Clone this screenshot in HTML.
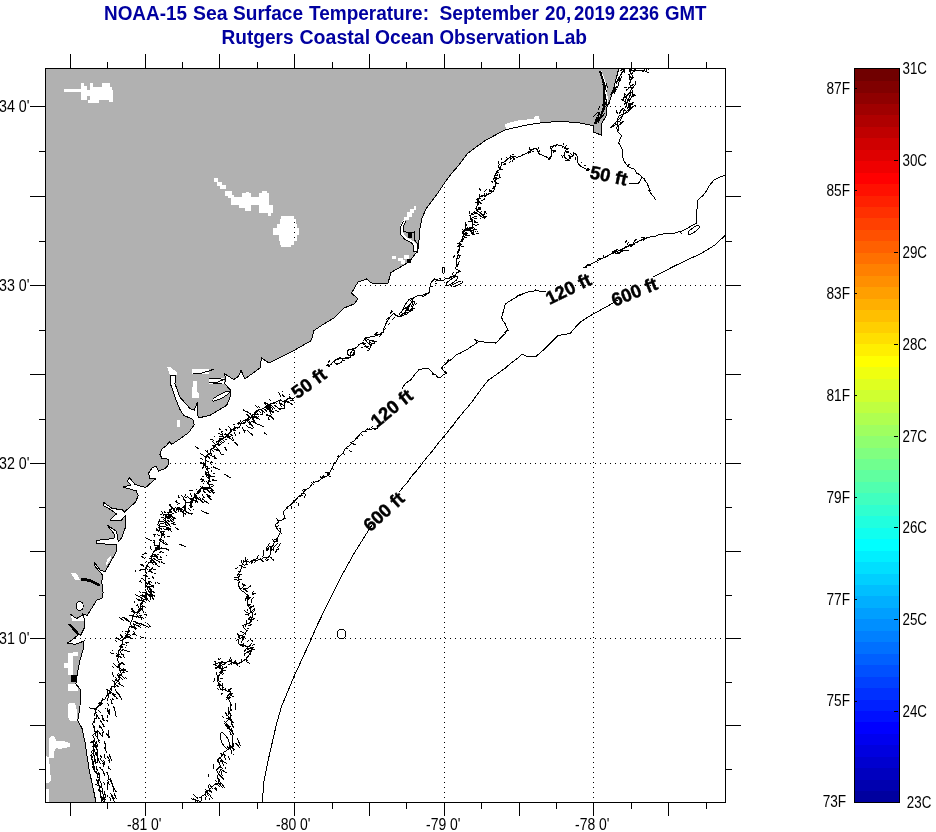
<!DOCTYPE html>
<html><head><meta charset="utf-8"><title>NOAA-15 SST</title>
<style>html,body{margin:0;padding:0;background:#fff;}body{width:936px;height:832px;overflow:hidden;position:relative;font-family:"Liberation Sans",sans-serif;}</style></head>
<body>
<svg width="936" height="832" viewBox="0 0 936 832" style="position:absolute;left:0;top:0;opacity:0.999">
<rect width="936" height="832" fill="#fff"/>
<g shape-rendering="crispEdges">
<line x1="45" y1="106.5" x2="725" y2="106.5" stroke="#000" stroke-width="1" stroke-dasharray="1 4"/>
<line x1="45" y1="285.5" x2="725" y2="285.5" stroke="#000" stroke-width="1" stroke-dasharray="1 4"/>
<line x1="45" y1="463.5" x2="725" y2="463.5" stroke="#000" stroke-width="1" stroke-dasharray="1 4"/>
<line x1="45" y1="638.5" x2="725" y2="638.5" stroke="#000" stroke-width="1" stroke-dasharray="1 4"/>
<line x1="145.5" y1="803" x2="145.5" y2="68" stroke="#000" stroke-width="1" stroke-dasharray="1 4"/>
<line x1="294.5" y1="803" x2="294.5" y2="68" stroke="#000" stroke-width="1" stroke-dasharray="1 4"/>
<line x1="444.5" y1="803" x2="444.5" y2="68" stroke="#000" stroke-width="1" stroke-dasharray="1 4"/>
<line x1="593.5" y1="803" x2="593.5" y2="68" stroke="#000" stroke-width="1" stroke-dasharray="1 4"/>
</g>
<mask id="landmask" maskUnits="userSpaceOnUse" x="0" y="0" width="936" height="832"><g shape-rendering="crispEdges">
<polygon points="45.0,68.0 619.0,68.0 615.0,83.0 611.5,96.0 607.0,107.0 606.0,116.0 601.0,125.0 601.0,135.0 593.5,132.0 593.5,126.0 590.0,125.0 578.0,122.5 560.0,121.5 543.0,122.5 524.0,125.5 505.0,130.0 486.0,140.0 468.0,153.0 459.0,165.0 452.0,173.0 446.5,180.0 436.5,195.0 426.5,208.0 422.0,218.0 420.0,228.0 419.0,240.0 417.8,250.5 409.0,262.0 403.0,265.5 391.0,272.5 388.0,283.0 380.0,284.0 371.5,283.0 366.5,279.0 358.0,282.0 351.5,293.0 358.0,299.0 354.0,304.0 344.0,308.0 334.0,318.0 321.5,325.5 314.0,330.5 311.5,340.5 294.0,350.5 284.0,355.5 269.0,363.0 261.5,358.0 260.0,367.8 245.0,379.0 241.0,370.4 238.5,376.3 233.8,379.6 224.6,373.7 225.9,379.6 224.6,383.6 230.5,390.2 229.9,398.1 226.6,405.4 210.0,415.3 198.1,418.0 197.5,402.1 194.2,410.0 190.2,408.7 179.6,396.8 175.0,383.6 175.7,375.7 170.4,375.0 170.4,383.6 174.4,395.5 179.6,408.7 183.6,415.3 192.9,419.3 194.2,424.6 188.9,432.5 179.6,439.1 171.7,444.4 169.1,441.8 166.4,445.7 161.4,449.2 160.0,454.5 162.0,458.5 168.6,459.2 168.6,464.4 165.3,468.4 158.7,471.0 156.0,466.4 152.1,467.8 148.8,473.0 149.5,478.3 155.4,479.0 145.5,487.6 134.9,484.3 129.6,477.7 127.0,481.0 131.0,485.0 123.0,487.0 136.2,490.9 138.2,495.5 135.6,502.1 124.4,512.0 121.7,509.4 112.5,508.7 103.2,502.1 103.2,505.4 111.1,510.0 116.4,514.0 109.8,520.0 121.0,520.6 125.0,516.0 125.0,528.5 121.7,537.8 118.4,541.8 116.4,531.2 107.2,525.2 115.1,535.1 113.8,538.4 96.6,540.4 96.0,543.7 116.4,544.4 117.0,550.6 111.0,561.0 105.1,571.7 100.5,570.4 93.9,561.8 95.2,566.4 102.5,575.0 101.8,582.3 103.1,592.9 101.8,598.8 97.2,599.5 87.3,615.3 82.7,614.0 84.6,619.3 84.6,627.2 80.7,635.1 76.7,632.5 68.8,624.6 78.0,635.1 71.4,640.4 67.5,643.0 75.4,644.4 84.0,641.0 83.0,650.0 80.0,660.0 77.8,670.7 75.8,684.0 80.9,690.0 79.9,707.5 77.8,720.8 81.9,728.0 85.0,742.0 89.0,769.0 94.2,793.4 96.0,802.5 45.0,802.5" fill="#fff"/>
<polygon points="505.0,124.0 512.0,122.0 520.0,120.0 534.0,119.0 535.0,116.0 539.0,116.0 540.0,122.0 538.0,125.0 524.0,126.0 512.0,129.0 506.0,130.0" fill="#000"/>
<polygon points="192.0,369.0 209.0,369.0 209.0,374.0 192.0,374.0" fill="#000"/>
<polygon points="209.0,377.5 224.0,377.5 224.6,383.6 209.0,383.6" fill="#000"/>
<polygon points="193.0,381.0 197.0,381.0 197.0,392.0 199.0,393.0 199.0,398.0 191.5,398.0" fill="#000"/>
<polygon points="167.0,367.0 170.0,367.0 177.0,372.0 177.5,375.0 170.0,375.0" fill="#000"/>
<polygon points="177.0,420.0 179.6,420.0 179.6,426.5 177.0,426.5" fill="#000"/>
<polygon points="70.8,573.0 76.0,573.0 80.0,579.6 75.0,579.6" fill="#000"/>
<polygon points="105.8,565.0 107.0,560.0 111.0,555.9 111.0,558.0 107.0,565.0" fill="#000"/>
<polygon points="67.6,653.0 72.7,653.0 72.7,652.0 77.8,652.0 77.8,656.0 73.2,656.0 73.2,675.0 67.6,675.0 67.6,667.6 64.0,667.6 64.0,662.5 67.6,662.5" fill="#000"/>
<polygon points="71.0,615.0 77.0,619.0 84.0,615.0 84.5,620.5 72.0,620.5" fill="#000"/>
<polygon points="67.6,684.0 77.8,684.0 77.8,691.0 67.6,691.0" fill="#000"/>
<polygon points="69.0,703.0 75.0,703.0 76.8,710.0 76.8,720.8 70.0,720.8 67.6,716.0 67.6,707.0" fill="#000"/>
<polygon points="49.0,738.0 52.0,736.0 55.0,737.0 56.0,741.0 64.0,741.0 69.6,743.0 69.6,747.0 64.0,748.0 60.0,749.0 56.0,748.0 54.0,752.0 54.0,758.0 49.0,758.0" fill="#000"/>
<polygon points="45.5,756.0 49.0,757.0 50.0,770.0 51.0,780.0 49.0,783.0 45.5,783.0" fill="#000"/>
<polygon points="45.5,789.0 49.0,789.0 49.0,801.5 45.5,801.5" fill="#000"/>
<polygon points="599.3,71.0 601.5,71.0 606.0,83.0 608.5,105.0 606.0,105.0 603.5,84.0" fill="#000"/>
<rect x="64" y="89" width="18" height="3" fill="#000"/>
<rect x="81" y="83" width="3" height="4" fill="#000"/>
<rect x="81" y="86" width="6" height="14" fill="#000"/>
<rect x="90" y="83" width="3" height="8" fill="#000"/>
<rect x="87" y="90" width="26" height="10" fill="#000"/>
<rect x="102" y="83" width="8" height="8" fill="#000"/>
<rect x="93" y="87" width="19" height="4" fill="#000"/>
<rect x="88" y="99" width="11" height="4" fill="#000"/>
<rect x="109" y="99" width="4" height="3" fill="#000"/>
<rect x="214" y="178" width="4" height="4" fill="#000"/>
<rect x="217" y="182" width="5" height="4" fill="#000"/>
<rect x="220" y="185" width="6" height="4" fill="#000"/>
<rect x="225" y="191" width="7" height="5" fill="#000"/>
<rect x="228" y="195" width="6" height="3" fill="#000"/>
<rect x="231" y="197" width="38" height="8" fill="#000"/>
<rect x="242" y="193" width="9" height="4" fill="#000"/>
<rect x="246" y="192" width="3" height="1" fill="#000"/>
<rect x="259" y="193" width="10" height="4" fill="#000"/>
<rect x="262" y="191" width="5" height="2" fill="#000"/>
<rect x="239" y="205" width="12" height="3" fill="#000"/>
<rect x="245" y="208" width="6" height="3" fill="#000"/>
<rect x="259" y="205" width="14" height="8" fill="#000"/>
<rect x="268" y="212" width="3" height="4" fill="#000"/>
<rect x="281" y="216" width="13" height="3" fill="#000"/>
<rect x="280" y="219" width="16" height="6" fill="#000"/>
<rect x="277" y="224" width="20" height="4" fill="#000"/>
<rect x="273" y="228" width="26" height="7" fill="#000"/>
<rect x="279" y="235" width="18" height="6" fill="#000"/>
<rect x="280" y="240" width="14" height="5" fill="#000"/>
<rect x="281" y="245" width="10" height="2" fill="#000"/>
<rect x="413.7" y="206" width="2.3000000000000114" height="4.400000000000006" fill="#000"/>
<rect x="409.8" y="208.5" width="3.8999999999999773" height="4.800000000000011" fill="#000"/>
<rect x="407.4" y="211.8" width="4.300000000000011" height="5.299999999999983" fill="#000"/>
<rect x="403.6" y="216.6" width="5.199999999999989" height="3.4000000000000057" fill="#000"/>
<rect x="392" y="256" width="4" height="3.3999999999999773" fill="#000"/>
<rect x="398.3" y="258" width="4.699999999999989" height="3.3000000000000114" fill="#000"/>
<rect x="404" y="255" width="4.800000000000011" height="3.5" fill="#000"/>
<rect x="400.7" y="260.4" width="4.300000000000011" height="3.8000000000000114" fill="#000"/>
<polyline points="404.5,220.5 401.5,226.7 401.5,233.5 405.5,238.3 412,242.1 415.6,245 415.2,250.8 418,252.2" fill="none" stroke="#000" stroke-width="3.2"/>
<rect x="87" y="96" width="3" height="4" fill="#fff"/>
</g></mask>
<rect x="45" y="68" width="681" height="735" fill="#b1b1b1" mask="url(#landmask)" shape-rendering="crispEdges"/>
<clipPath id="mapclip"><rect x="46" y="69" width="679" height="733"/></clipPath>
<g fill="none" stroke="#000" stroke-width="1" shape-rendering="crispEdges" stroke-linejoin="miter" clip-path="url(#mapclip)">
<polyline points="619.0,68.0 615.0,83.0 611.5,96.0 607.0,107.0 606.0,116.0 601.0,125.0 601.0,135.0 593.5,132.0 593.5,126.0 590.0,125.0 578.0,122.5 560.0,121.5 543.0,122.5 524.0,125.5 505.0,130.0 486.0,140.0 468.0,153.0 459.0,165.0 452.0,173.0 446.5,180.0 436.5,195.0 426.5,208.0 422.0,218.0 420.0,228.0 419.0,240.0 417.8,250.5 409.0,262.0 403.0,265.5 391.0,272.5 388.0,283.0 380.0,284.0 371.5,283.0 366.5,279.0 358.0,282.0 351.5,293.0 358.0,299.0 354.0,304.0 344.0,308.0 334.0,318.0 321.5,325.5 314.0,330.5 311.5,340.5 294.0,350.5 284.0,355.5 269.0,363.0 261.5,358.0 260.0,367.8 245.0,379.0 241.0,370.4 238.5,376.3 233.8,379.6 224.6,373.7 225.9,379.6 224.6,383.6 230.5,390.2 229.9,398.1 226.6,405.4 210.0,415.3 198.1,418.0 197.5,402.1 194.2,410.0 190.2,408.7 179.6,396.8 175.0,383.6 175.7,375.7 170.4,375.0 170.4,383.6 174.4,395.5 179.6,408.7 183.6,415.3 192.9,419.3 194.2,424.6 188.9,432.5 179.6,439.1 171.7,444.4 169.1,441.8 166.4,445.7 161.4,449.2 160.0,454.5 162.0,458.5 168.6,459.2 168.6,464.4 165.3,468.4 158.7,471.0 156.0,466.4 152.1,467.8 148.8,473.0 149.5,478.3 155.4,479.0 145.5,487.6 134.9,484.3 129.6,477.7 127.0,481.0 131.0,485.0 123.0,487.0 136.2,490.9 138.2,495.5 135.6,502.1 124.4,512.0 121.7,509.4 112.5,508.7 103.2,502.1 103.2,505.4 111.1,510.0 116.4,514.0 109.8,520.0 121.0,520.6 125.0,516.0 125.0,528.5 121.7,537.8 118.4,541.8 116.4,531.2 107.2,525.2 115.1,535.1 113.8,538.4 96.6,540.4 96.0,543.7 116.4,544.4 117.0,550.6 111.0,561.0 105.1,571.7 100.5,570.4 93.9,561.8 95.2,566.4 102.5,575.0 101.8,582.3 103.1,592.9 101.8,598.8 97.2,599.5 87.3,615.3 82.7,614.0 84.6,619.3 84.6,627.2 80.7,635.1 76.7,632.5 68.8,624.6 78.0,635.1 71.4,640.4 67.5,643.0 75.4,644.4 84.0,641.0 83.0,650.0 80.0,660.0 77.8,670.7 75.8,684.0 80.9,690.0 79.9,707.5 77.8,720.8 81.9,728.0 85.0,742.0 89.0,769.0 94.2,793.4 96.0,802.5"/>
<polyline points="102.5,802.0 105.6,806.3 101.6,802.1 101.7,798.0 100.2,796.6 103.7,798.8 100.8,795.9 100.4,794.7 101.1,791.3 99.0,790.2 100.6,792.3 98.6,790.9 100.0,786.5 95.5,784.0 99.7,786.6 98.1,782.6 96.3,778.8 97.7,782.8 98.9,780.9 99.1,778.2 98.1,777.7 97.5,774.0 100.1,773.7 97.3,774.5 95.1,771.5 92.3,766.4 95.3,772.2 94.4,769.6 94.0,766.4 92.5,764.0 92.5,762.0 91.0,757.0 93.5,762.7 92.0,758.6 91.3,756.4 93.0,757.9 91.8,755.6 92.1,753.7 91.7,751.3 94.4,750.0 92.6,746.2 94.6,745.5 96.1,748.3 94.1,745.4 93.8,740.7 90.4,742.6 93.9,741.6 94.2,739.0 93.8,736.5 92.5,735.3 95.3,732.5 94.0,727.7 93.1,725.1 95.0,728.3 92.2,724.1 93.5,722.7 93.3,722.7 95.0,719.0 94.9,722.7 94.7,718.2 96.6,718.1 95.9,712.7 94.1,715.5 96.6,712.0 95.0,712.9 95.9,709.1 89.1,707.9 96.6,709.5 97.5,706.5 95.6,708.6 98.0,706.6 100.3,704.1 102.9,697.7 101.0,704.7 102.3,703.5 98.5,703.1 101.3,702.6 102.4,700.1 105.0,699.0 105.7,697.9 108.1,693.6 108.6,696.5 107.5,693.8 107.5,691.5 110.4,689.6 112.0,686.6 114.2,687.0 114.6,683.3 115.9,683.5 117.9,680.5 120.0,679.0 118.9,675.3 123.9,671.9 118.2,676.0 121.5,674.5 120.2,670.3 125.3,669.4 120.2,671.2 119.8,670.2 119.1,665.7 119.4,670.6 118.6,665.5 120.0,664.0 123.2,662.0 119.9,664.2 117.3,660.0 117.8,658.5 118.9,654.5 116.2,655.5 117.9,655.1 118.5,651.5 120.4,648.2 121.0,646.0 123.1,642.1 122.6,640.0 124.6,638.2 127.1,635.2 127.0,632.7 128.2,630.6 129.4,627.2 131.1,625.8 130.8,622.1 132.7,619.2 133.0,615.6 134.2,613.6 131.4,608.4 135.0,612.9 137.7,612.5 142.8,607.9 137.2,613.4 138.5,609.6 139.9,608.8 140.3,604.6 142.3,601.4 141.9,599.4 142.4,601.3 144.2,600.0 141.7,604.5 144.2,599.1 147.2,598.7 145.8,594.7 146.4,591.5 145.1,594.6 149.9,594.3 153.8,599.6 150.0,594.7 150.0,591.0 155.1,592.9 149.9,590.1 150.1,588.4 146.0,586.1 148.8,582.9 145.7,586.2 146.0,582.0 145.3,578.2 145.2,575.6 148.0,576.5 144.8,575.2 146.8,573.5 145.0,571.1 145.0,573.2 145.4,571.2 146.0,569.0 139.4,570.1 145.2,569.6 147.0,566.3 148.1,563.7 151.1,560.6 151.5,558.9 152.0,555.8 154.5,556.7 151.1,556.3 153.1,552.8 156.6,547.4 153.5,552.3 155.0,551.2 156.6,549.8 163.3,548.1 156.7,549.3 159.6,548.0 159.4,544.9 156.2,547.8 159.4,544.3 160.4,541.1 163.8,543.2 159.5,540.1 160.1,539.1 161.2,538.1 161.5,534.6 162.1,531.7 164.8,531.5 162.6,532.0 158.8,530.6 160.1,527.8 157.9,524.6 158.5,522.0 162.2,521.8 165.2,520.2 165.7,516.9 164.1,518.8 166.4,517.0 169.7,517.6 172.0,516.0 169.0,513.8 169.2,509.6 172.0,509.7 171.7,506.5 171.2,509.3 175.3,507.9 178.8,508.4 179.9,508.7 182.7,507.7 185.6,504.8 185.4,510.5 185.2,504.9 186.0,503.2 183.4,498.3 186.4,502.7 190.0,503.0 191.4,500.9 193.7,499.0 192.3,501.8 191.5,498.9 196.0,496.8 197.7,503.4 195.4,497.0 194.9,495.1 197.5,493.0 199.4,488.9 198.3,493.4 199.1,492.9 201.0,488.6 204.8,488.2 202.8,491.1 205.5,487.2 208.3,488.5 213.3,486.0 209.1,488.1 210.0,486.0 209.2,485.1 208.6,480.8 210.9,481.5 209.2,480.3 209.9,477.7 207.0,477.5 209.6,478.6 209.2,477.0 208.8,474.9 207.7,469.6 206.3,469.3 205.3,464.6 204.3,463.4 202.6,468.9 205.3,462.9 205.0,461.0 205.9,458.7 206.9,454.9 210.7,452.4 206.4,455.7 211.1,453.3 212.0,455.6 210.8,452.5 210.2,450.2 212.5,448.5 215.2,446.3 216.4,444.3 219.5,445.6 217.3,443.5 218.3,443.2 219.3,440.1 215.8,442.6 220.2,440.8 223.3,437.4 221.6,431.1 223.2,437.6 224.0,437.0 218.8,441.2 224.7,437.7 227.5,434.7 230.1,438.5 227.9,435.6 228.7,434.5 229.9,432.7 230.5,429.6 230.7,433.0 231.4,429.8 227.8,425.7 230.6,429.0 234.1,429.8 236.0,428.0 234.3,426.8 235.6,427.9 239.8,427.0 240.6,424.2 245.9,422.8 240.2,423.2 243.0,424.1 244.6,422.5 246.8,419.0 242.0,421.6 246.2,419.6 250.0,419.0 252.0,416.4 253.4,416.7 254.4,422.4 253.0,417.6 256.0,413.0 251.4,415.7 256.9,412.3 257.7,411.4 258.9,409.2 253.8,413.3 259.6,409.7 262.0,409.0 265.7,407.3 271.0,405.0 264.8,407.6 266.3,406.3 267.3,408.0 265.8,406.0 270.5,404.3 270.4,403.9 274.7,403.0 270.9,403.6 275.5,402.3 276.0,402.0 280.1,399.8 282.6,401.5 284.9,402.0 283.4,401.0 285.2,401.2 284.2,407.9 285.4,400.7 287.9,398.6 293.7,398.7 288.7,398.9 290.0,398.5"/>
<polyline points="326.5,365.5 328.5,364.5 328.8,367.4 329.4,365.4 333.0,362.0 337.0,359.4 339.9,358.9 343.0,358.5 347.1,358.6 350.0,357.7 350.8,352.6 353.6,349.4 357.0,347.0 359.0,344.5 362.7,343.2 366.0,346.0 369.0,346.7 365.7,347.0 369.6,349.0 371.3,345.7 367.0,342.0 364.4,338.9 366.9,340.6 364.8,338.8 370.0,337.0 373.0,336.5 376.4,335.5 380.5,334.1 383.2,332.0 383.7,329.1 385.0,326.0 386.7,321.8 390.0,317.0 393.5,313.2 396.2,315.7 400.3,316.7 402.9,315.8 406.0,313.0 409.8,311.7 412.3,309.8 408.7,310.4 413.0,310.6 411.7,305.4 413.1,309.1 411.8,306.3 412.6,302.6 413.2,297.9 417.0,296.0 422.6,295.3 425.2,294.2 429.4,292.7 430.0,287.0 431.1,282.5 434.5,279.0 438.3,280.1 443.0,280.8 445.0,279.1 449.0,278.0 451.6,276.2 455.0,275.6 456.7,272.7 460.2,271.4 455.9,268.8 456.3,263.0 458.1,265.9 456.1,262.6 456.8,258.5 458.2,255.0 457.5,252.2 459.3,249.0 458.8,246.2 459.9,242.2 462.0,240.9 464.7,237.2 465.6,234.3 462.5,233.3 466.4,233.5 462.2,232.6 464.5,230.0 467.4,227.4 469.7,230.6 466.1,230.8 470.6,229.9 471.2,232.9 474.2,234.3 472.9,232.2 474.2,228.5 472.2,225.9 472.5,222.3 471.9,219.6 470.0,215.5 473.2,214.2 476.8,212.9 478.8,215.0 480.9,216.4 484.4,218.0 485.6,216.1 484.6,218.1 482.6,215.3 480.4,213.2 478.0,210.8 475.8,208.8 477.5,211.4 476.0,208.6 477.6,204.6 479.3,201.8 481.3,203.9 478.5,201.7 476.8,199.2 479.7,197.4 479.3,193.8 479.7,196.5 484.4,195.0 487.2,195.0 490.4,193.2 493.5,191.1 494.7,188.1 495.7,184.1 495.5,179.5 494.7,176.2 496.4,172.5 499.8,169.3 501.4,165.4 501.5,162.5 504.5,161.8 507.0,159.5 509.6,157.4 513.5,156.5 517.3,157.3 520.3,156.5 523.0,154.6 526.9,153.2 530.6,150.5 534.4,148.5 536.6,148.0 537.6,151.6 539.1,154.0 542.7,155.4 545.9,156.7 549.4,159.0 550.5,156.7 549.7,160.0 552.0,154.0 551.5,150.2 553.7,150.7 551.7,150.0 550.3,147.1 554.2,145.8 556.9,145.0 555.5,146.8 556.6,144.5 559.7,145.4 563.3,146.5 566.5,148.8 564.5,153.1 564.0,155.6 565.3,158.1 568.2,160.0 570.3,157.2 568.4,154.7 570.0,157.5 572.6,156.2 575.0,153.0 577.0,155.8 577.1,159.9 577.5,158.0 577.2,160.8 578.5,164.2 580.7,166.1 584.4,168.2 587.0,169.3 590.0,169.5"/>
<polyline points="629.5,183.5 632.3,183.0 635.9,183.8 638.5,183.5 640.5,179.8 642.0,177.0"/>
<polyline points="649.0,72.6 646.5,71.7 642.9,70.3 643.1,72.4 642.6,70.8 640.0,70.0 637.7,70.8 634.1,70.5 631.0,71.0 629.8,74.8 629.5,78.0 630.6,80.2 629.7,84.8 631.1,87.2 631.0,90.7 628.2,93.8 626.9,95.5 624.2,98.1 622.0,99.7 624.9,101.9 627.6,102.7 631.0,105.0 633.1,103.7 630.1,104.2 629.5,107.7 631.6,108.1 629.9,108.0 626.7,111.5 624.1,109.8 627.4,112.1 624.0,114.0 620.8,117.2 620.2,118.1 617.0,121.3 621.4,122.3 617.6,121.6 617.9,125.1 616.7,127.6 617.8,132.0 622.0,135.8 620.2,138.4 618.7,143.0 620.6,146.3 622.5,150.2 623.0,153.8 622.6,157.2 624.0,161.0 626.0,163.7 628.1,166.4 629.2,164.1 627.1,165.8 631.0,168.0 634.7,169.3 636.5,173.1 639.2,174.4 642.0,177.0 644.7,179.1 646.1,182.0 644.6,180.3 646.6,182.4 647.5,184.5 648.9,187.2 649.6,191.3 651.2,189.9 649.0,190.8 651.0,193.5 653.4,196.4 655.7,199.8"/>
<polyline points="191.4,798.7 194.5,799.7 198.3,800.9 201.0,801.5 202.0,796.0 205.2,794.2 206.4,791.7 209.6,789.7 211.5,787.4 214.3,784.7 217.8,783.9 220.0,781.0 217.0,777.0 218.5,774.2 220.3,770.6 222.4,768.4 220.1,766.5 216.4,769.8 220.7,767.0 219.3,762.2 218.0,760.0 218.9,763.0 217.1,759.8 220.6,757.7 222.3,754.6 219.7,752.6 222.7,755.4 224.0,752.0 226.8,750.5 228.8,748.4 232.0,746.0 232.7,743.5 232.8,739.4 233.0,735.4 233.0,733.0 231.3,730.9 228.6,728.2 226.4,726.2 224.5,723.5 227.0,721.2 228.8,718.8 226.4,718.1 229.4,719.7 231.0,715.0 229.8,712.1 230.6,709.0 230.3,706.0 230.1,702.4 228.8,700.0 226.8,697.8 228.1,695.6 231.0,691.4 230.5,694.6 230.0,691.2 227.3,691.1 223.4,689.4 220.3,689.2 219.3,685.0 217.9,681.4 218.6,677.1 218.2,681.4 217.0,678.4 218.3,676.4 220.9,673.2 222.4,669.7 219.1,668.0 220.7,665.3 219.8,667.5 216.4,665.6 213.8,664.3 215.8,664.1 219.3,662.6 222.7,662.7 225.6,662.6 228.9,661.1 231.1,656.9 229.5,660.4 233.4,663.0 238.2,663.3 233.7,662.5 236.5,664.3 238.2,666.4 237.1,664.0 239.0,663.3 242.3,661.5 246.2,658.9 248.2,657.0 250.1,652.9 251.1,651.3 252.7,648.1 249.3,646.6 244.9,645.9 242.5,646.4 244.9,645.9 242.2,645.6 244.0,642.7 242.3,645.9 238.6,643.8 238.9,639.8 239.7,636.2 237.2,633.2 238.8,636.4 242.6,635.3 245.7,632.6 247.3,630.8 244.2,628.5 243.0,625.4 247.5,623.5 250.5,622.2 252.1,617.3 252.7,613.5 251.0,611.3 249.8,607.6 247.3,604.9 247.9,601.5 248.4,596.2 245.9,593.7 244.2,592.2 241.0,590.2 239.7,587.6 238.3,584.0 240.0,588.4 238.5,584.3 239.2,581.9 238.4,578.1 237.6,574.6 240.8,570.3 241.3,566.8 243.0,562.7 245.2,561.5 245.9,556.8 245.5,561.3 249.6,562.2 251.4,560.7 254.9,560.5 258.0,560.0 260.5,559.0 263.7,562.0 260.6,559.9 264.5,557.1 267.8,557.3 270.1,554.7 270.6,549.3 272.2,546.5 274.3,542.8 273.3,540.6 275.2,542.0 277.8,541.0 277.8,537.1 278.9,535.6 280.2,532.2 280.9,528.2 281.0,532.7 277.8,530.0 276.8,528.1 275.2,524.8 279.0,521.7 276.4,518.1 278.2,521.3 282.4,519.9 285.2,518.5 283.7,514.5 284.0,511.0 286.9,507.8 289.0,506.0 291.8,503.8 293.8,501.6 297.1,498.6 299.0,496.0 303.1,495.3 299.7,495.7 301.7,494.7 304.2,491.1 307.3,489.0 309.2,487.8 311.5,484.8 313.8,482.2 318.3,481.2 321.5,478.5 323.7,474.7 322.2,478.6 323.5,477.5 326.9,476.0 329.0,473.5 324.9,472.0 328.4,474.0 331.5,469.6 332.7,466.8 334.0,463.5 336.5,461.6 337.2,459.1 339.5,456.2 342.8,453.5 344.0,451.0 345.9,447.9 349.4,445.7 351.3,443.5 356.1,444.9 351.1,442.7 354.0,441.0 357.3,437.2 359.5,434.8 362.3,431.9 366.9,431.6 362.2,432.0 364.5,431.4 367.7,428.9 371.5,429.5 373.7,428.0 377.4,428.9 377.4,425.0"/>
<polyline points="402.0,388.5 403.8,385.6 406.6,382.5 410.6,380.0 413.2,376.9 414.7,374.4 416.6,372.4 419.0,369.7 423.6,368.7 427.7,368.0 430.9,371.1 433.0,373.0 432.9,375.4 433.8,373.8 435.9,375.0 438.0,378.0 441.0,376.9 443.2,375.0 446.5,373.0 443.7,370.6 441.4,368.0 443.8,365.4 446.5,363.0 448.7,361.4 448.2,359.2 447.7,362.2 451.3,359.4 454.7,356.2 456.8,354.3 460.1,353.4 462.3,351.5 465.2,350.5 468.0,349.0 470.6,347.0 473.8,345.0 477.3,342.3 473.8,339.0 476.6,340.7 480.0,341.5 483.1,341.6 485.7,342.7 489.8,342.6 492.4,342.4 495.5,343.0 497.8,341.1 501.0,337.5 503.5,335.0 505.3,333.6 506.1,331.4 504.5,332.6 508.0,330.5 506.5,327.0 505.4,323.9 502.9,320.7 501.8,318.0 502.3,314.0 503.8,311.0 504.2,307.6 505.5,304.0 508.1,301.9 510.8,300.5 512.5,299.3 515.9,297.6 518.0,295.5 520.1,294.2 518.7,295.0 520.5,295.0 523.4,293.5 526.2,292.8 529.7,291.4 533.0,291.4 535.5,290.0 538.7,290.9 542.6,291.7 545.5,291.8"/>
<polyline points="583.0,268.0 587.0,266.0 589.2,265.6 586.4,265.2 590.8,264.3 594.6,262.2 598.5,260.1 603.0,258.0 607.2,255.8 611.2,253.9 615.0,252.6 618.6,250.7 623.0,249.0 627.4,246.6 631.2,244.7 635.4,242.9 639.3,241.0 643.0,239.0 647.3,237.8 650.8,236.9 655.3,236.4 659.3,234.6 663.0,234.0 667.6,233.4 671.5,233.2 675.5,233.0 679.6,231.3 681.5,233.6 680.2,232.2 684.0,230.0 688.0,228.0 691.9,225.6 696.8,223.0 696.5,218.7 696.9,214.1 696.8,210.0 697.8,204.7 698.0,199.8 703.5,195.0 706.3,191.0 709.0,186.0 714.0,180.0 719.5,177.3 725.0,175.4"/>
<polyline points="262.2,802.0 264.0,781.5 269.0,756.5 276.5,724.0 281.5,706.5 294.0,676.5 309.0,644.0 317.8,624.0 329.0,601.0 341.5,576.0 354.0,553.5 366.5,533.5 372.0,525.0"/>
<polyline points="399.5,492.0 402.7,487.6 406.5,483.5 409.9,478.8 413.3,474.2 417.0,470.3 420.6,465.6 424.0,461.0 427.3,456.8 430.6,453.1 433.7,449.3 436.8,445.1 439.9,441.1 443.3,437.3 446.5,433.5 450.0,428.7 453.3,425.0 456.6,420.4 460.2,416.0 464.1,411.2 468.0,406.8 471.7,402.2 474.9,397.7 477.7,393.9 481.3,388.9 484.6,384.8 488.0,380.5 492.6,377.1 496.5,374.6 501.3,370.8 505.5,368.0 509.4,364.4 513.8,361.1 518.0,357.8 521.8,354.0 528.0,357.0 535.5,356.8 539.7,353.2 544.0,349.5 548.0,345.5 553.0,340.7 558.0,335.5 564.4,334.6 570.5,333.0 573.5,329.5 576.8,325.7 580.5,321.8 586.8,317.9 593.0,314.0 598.4,311.3 602.9,308.7 608.3,305.8 613.0,303.0 618.0,300.0"/>
<polyline points="653.0,277.0 675.5,265.5 702.0,253.0 715.0,245.0 725.0,235.5"/>
<path d="M103.1 796.0L105.3 799.8M111.2 795.8L114.4 801.7M106.8 794.6L108.2 797.2M109.9 792.8L114.4 798.9M113.8 788.1L116.2 791.9M101.7 802.7L103.4 807.4M114.0 792.9L116.3 798.6M109.6 796.5L110.9 800.4M109.8 779.3L112.2 784.1M108.1 775.0L108.5 779.9M110.1 778.0L112.6 784.4M107.1 782.5L107.7 789.5M112.6 784.2L114.0 792.0M103.2 782.0L105.3 785.1M107.7 780.0L109.4 785.4M102.7 763.0L103.3 765.1M99.6 767.1L102.1 770.0M107.8 765.5L108.7 768.6M102.2 768.7L105.0 776.2M108.7 767.3L110.4 769.7M106.8 772.0L109.3 778.5M102.8 765.3L104.1 766.9M100.1 755.1L102.1 758.1M97.9 739.0L99.2 742.8M109.1 753.8L111.6 761.1M104.2 747.1L105.3 749.0M106.9 755.6L109.7 760.5M97.2 737.7L99.5 741.4M97.7 757.8L100.3 764.0M108.5 759.6L109.9 762.4M105.0 748.7L106.9 752.7M104.0 760.8L104.7 764.8M100.1 758.7L103.9 763.4M103.6 759.8L104.3 762.3M104.6 741.2L105.8 747.9M104.1 754.4L105.2 758.6M100.0 719.6L101.1 722.2M102.0 731.9L102.7 737.4M99.9 732.0L100.3 734.7M100.7 726.9L104.0 732.6M99.4 724.8L100.5 727.0M101.4 721.5L104.2 726.8M99.4 726.4L100.5 728.5M105.7 732.8L109.4 737.9M108.2 729.9L109.2 737.0M98.3 731.4L102.1 736.1M97.1 730.0L98.0 733.4M107.0 715.2L107.9 718.2M104.6 707.5L106.0 709.2M97.2 715.3L99.3 719.0M102.1 714.8L103.1 720.1M101.7 715.4L104.2 721.0M106.5 719.7L107.6 721.7M98.5 710.2L100.7 712.9M107.2 709.5L107.8 712.0M114.7 709.8L116.2 716.6M109.0 708.7L109.7 714.8M110.7 699.3L112.1 703.8M107.6 698.1L107.9 700.9M107.3 707.7L109.1 714.3M113.6 706.4L114.9 709.7M107.4 703.0L108.8 705.9M111.8 697.5L113.6 700.4M108.5 693.8L109.0 697.9M118.4 693.4L121.6 699.5M118.8 694.6L122.1 699.6M114.9 695.8L117.1 698.8M102.3 799.1L104.1 805.0M102.3 791.2L104.0 798.7M104.2 799.4L105.4 803.3M103.9 790.7L106.1 798.3M103.9 799.1L104.5 803.1M101.5 783.4L102.6 794.1M98.7 772.1L100.2 782.7M96.2 765.8L97.4 771.2M96.5 770.9L97.6 777.8M93.4 762.8L94.2 772.4M94.6 750.2L96.3 756.4M95.9 745.1L96.1 749.8M95.9 752.0L98.4 761.4M96.5 740.9L97.7 747.1M93.7 754.6L95.4 763.8M95.0 731.2L96.2 736.7M96.6 730.9L98.7 742.4M106.7 689.2L110.2 692.2M112.4 680.3L115.0 682.4M109.3 692.6L110.6 694.1M115.7 690.4L118.0 693.5M113.6 683.4L118.9 687.0M109.7 690.9L110.8 693.5M114.1 684.8L115.8 687.0M111.9 693.1L114.9 696.7M115.1 688.9L116.8 693.1M118.2 683.3L124.2 686.8M110.0 691.5L115.7 695.2M114.9 679.6L119.8 682.6M110.1 688.2L111.7 690.4M120.5 668.4L124.9 673.0M112.5 665.9L113.4 668.2M116.9 673.9L119.2 678.6M115.8 677.2L117.5 682.4M124.3 669.9L128.2 672.2M124.9 677.3L126.9 678.9M117.5 666.4L118.8 668.1M120.7 677.3L122.6 679.8M117.8 673.3L123.1 676.7M123.2 668.7L126.2 670.1M111.7 671.5L113.9 677.0M122.3 676.3L125.2 679.2M113.6 663.4L118.1 667.8M118.8 664.4L120.4 668.8M121.4 662.1L124.4 664.9M118.8 662.6L120.7 665.3M119.4 653.7L119.7 654.8M119.3 650.5L121.0 651.6M122.7 653.5L124.3 658.2M120.5 652.5L122.5 655.4M109.8 652.6L113.8 653.8M119.0 655.9L121.9 658.0M112.2 650.4L113.3 651.0M123.5 656.8L125.3 657.6M118.2 655.0L119.2 655.1M115.6 652.9L116.8 653.1M116.9 655.3L118.8 657.8M119.2 646.7L122.4 647.2M119.3 648.9L123.2 651.1M121.9 654.0L123.0 654.3M116.2 655.7L117.4 657.2M115.6 640.4L116.8 641.7M121.8 630.9L122.8 631.8M125.0 633.8L128.1 634.4M128.4 634.6L130.7 635.1M119.7 635.0L120.9 635.5M124.8 647.0L126.4 648.6M124.4 638.0L129.1 637.6M131.5 634.9L135.0 634.9M125.0 642.5L129.0 643.0M127.2 635.8L130.0 637.3M121.2 637.2L124.9 638.7M120.6 634.4L122.9 637.8M130.1 637.8L133.1 638.7M120.4 645.6L123.4 647.6M126.2 642.5L126.9 643.6M121.6 644.1L124.6 644.1M125.8 645.2L127.5 645.4M125.1 633.1L126.2 633.2M133.3 631.5L134.9 633.2M129.1 626.3L133.4 627.9M136.7 625.1L140.7 627.2M132.6 626.1L136.8 628.3M128.2 629.7L129.9 630.6M134.6 623.8L136.1 625.4M134.9 627.0L135.8 628.8M138.6 624.5L140.9 625.2M135.4 622.1L137.5 624.0M137.4 623.1L141.9 624.0M133.2 622.9L135.4 627.4M125.1 631.5L130.0 631.9M136.2 622.1L137.9 622.2M133.1 633.8L137.4 635.6M133.1 621.2L137.2 622.2M127.1 632.1L128.6 633.2M140.3 636.7L144.6 638.2M131.4 626.8L134.1 627.1M140.5 614.9L141.7 615.8M140.7 617.5L141.6 619.8M143.0 612.7L144.6 613.2M128.9 616.0L131.9 615.9M135.6 613.6L137.9 616.4M136.3 614.2L139.5 618.0M133.3 614.3L134.1 616.8M138.8 617.5L143.7 618.1M138.9 615.0L140.7 616.7M132.5 616.5L136.9 616.8M143.7 613.9L147.0 615.2M136.4 617.3L136.7 618.2M132.4 607.9L133.0 609.7M136.7 611.9L140.2 613.5M131.3 611.5L134.6 612.7M135.9 605.2L137.4 606.6M138.2 600.1L139.7 600.4M140.9 604.2L144.3 606.8M141.4 609.1L144.4 612.2M136.8 603.6L138.8 607.4M139.4 608.1L143.2 609.8M142.9 606.3L145.5 606.4M134.1 601.2L135.0 602.5M141.5 606.6L143.1 607.8M139.9 606.0L143.1 606.6M145.7 598.7L147.0 600.4M146.4 598.4L149.5 601.6M145.2 595.3L147.0 598.2M141.0 597.4L142.4 599.1M149.3 595.0L150.5 597.1M149.8 596.2L150.9 599.9M146.9 593.3L148.1 593.7M142.0 593.7L143.5 597.4M146.9 594.2L149.3 595.7M138.7 591.2L141.2 592.7M150.3 593.4L152.9 596.4M142.4 598.3L144.6 601.7M141.1 595.2L145.4 595.3M144.8 599.3L148.5 599.2M142.1 592.5L145.8 592.4M155.3 582.3L156.0 583.8M147.8 586.4L152.8 586.0M147.7 589.2L149.1 592.1M151.3 585.9L153.5 585.9M146.4 583.3L149.6 583.3M150.9 585.6L153.7 587.5M149.7 582.5L150.6 583.3M156.7 582.3L159.6 583.8M149.9 588.1L152.5 591.4M144.9 588.4L145.8 591.0M147.4 587.5L148.0 588.6M148.3 589.8L149.4 592.9M142.9 575.5L144.6 576.1M140.0 580.1L140.6 581.8M148.4 580.8L151.6 582.5M135.1 570.2L136.1 571.5M154.3 573.0L156.2 573.6M148.2 577.9L149.5 578.9M150.7 571.1L151.4 573.5M152.6 577.1L154.0 578.4M138.8 580.8L142.1 582.6M147.6 571.2L152.3 571.6M141.6 578.2L145.5 580.9M152.2 575.7L153.7 578.7M148.3 580.9L150.1 584.9M148.8 570.0L152.2 569.8M150.9 556.2L153.5 557.2M149.4 558.7L153.4 559.4M144.7 567.3L147.9 569.9M148.1 562.6L151.1 562.5M153.6 562.1L155.8 563.1M151.0 568.7L155.7 569.4M154.4 559.4L155.7 559.6M145.6 560.9L146.8 561.8M142.2 564.7L143.8 565.4M146.1 565.8L148.1 566.0M161.2 561.7L164.7 564.1M151.1 560.3L155.0 561.3M151.6 567.4L153.4 568.6M150.3 561.7L153.6 562.5M153.1 560.9L156.7 564.3M150.9 561.4L153.6 564.7M141.8 554.2L146.6 553.8M156.8 554.3L158.8 554.4M158.9 552.2L160.7 552.4M156.9 555.6L158.4 560.4M150.0 546.5L151.5 550.2M153.6 554.3L156.7 557.4M152.1 554.5L156.9 555.2M154.7 547.1L159.0 547.5M159.7 550.7L163.5 552.8M154.5 545.0L159.1 546.6M165.6 554.6L166.6 556.4M159.5 559.5L162.2 560.1M159.9 556.0L161.5 558.0M155.3 547.0L158.4 550.6M166.0 543.3L167.1 545.4M164.6 537.3L165.1 538.1M166.0 548.7L169.0 550.3M165.5 544.3L167.9 544.8M160.3 539.6L163.9 540.7M162.7 539.4L163.5 540.7M160.9 547.6L165.6 549.0M157.5 544.6L158.8 547.8M165.7 542.0L166.2 543.7M158.4 545.6L159.2 546.2M153.5 534.2L155.9 534.8M163.0 540.9L164.3 543.7M166.6 536.3L170.1 536.4M157.3 534.6L160.6 536.1M153.6 542.0L154.8 544.8M160.5 534.8L164.9 534.8M153.6 539.5L155.1 543.1M162.1 547.9L163.5 548.4M158.5 527.5L162.1 529.3M160.0 531.2L161.2 533.0M166.6 527.8L168.5 531.0M157.7 522.7L160.1 525.6M153.7 534.3L154.9 536.4M156.2 529.0L156.9 530.5M160.4 532.6L162.8 533.4M161.9 530.4L162.5 532.1M162.9 528.4L165.1 529.6M163.1 531.5L164.1 534.1M160.3 526.4L164.3 526.9M156.0 528.5L158.7 531.5M165.1 528.9L168.5 530.0M167.8 514.8L172.1 514.7M164.6 522.9L165.9 523.2M168.1 516.3L169.9 518.3M159.1 519.2L160.1 522.6M171.4 522.9L175.7 525.1M160.5 514.1L162.1 514.8M167.6 523.6L170.7 527.0M164.8 523.9L168.4 526.4M167.1 520.3L170.0 521.8M170.7 518.8L174.4 519.3M161.8 511.3L163.6 515.5M167.3 512.0L171.1 512.4M163.7 511.5L164.9 511.8M169.4 516.6L170.8 516.9M172.9 519.0L174.2 521.1M160.3 523.5L163.8 523.2M160.8 517.2L163.6 517.2M172.8 524.7L174.6 524.8M163.9 521.9L167.0 523.1M170.1 519.3L171.7 522.0M177.5 507.7L180.5 507.5M167.2 517.6L169.2 519.3M165.5 514.4L169.8 515.4M163.5 512.4L166.4 512.4M181.4 508.4L183.9 511.3M172.6 513.1L174.3 513.7M174.5 511.0L176.0 511.9M170.9 515.0L174.0 518.8M182.8 513.5L184.2 517.2M170.1 509.7L171.8 513.2M172.9 509.8L174.4 510.5M182.5 507.3L184.9 507.6M175.5 510.0L176.9 510.1M177.8 494.6L179.4 498.5M180.6 510.5L182.1 510.6M176.2 509.5L180.8 509.2M182.4 511.1L183.2 513.8M174.8 512.1L175.9 512.2M176.0 500.5L176.9 500.9M179.6 506.8L180.9 509.7M173.6 509.3L176.8 512.5M178.0 509.3L178.9 511.6M177.6 511.7L179.4 511.9M176.5 503.9L177.6 504.5M169.2 504.2L171.4 505.6M178.9 508.7L180.7 510.9M192.9 509.0L193.8 509.8M190.2 503.6L192.5 507.2M190.5 508.0L191.9 507.9M184.7 510.2L185.4 512.0M190.0 504.2L193.3 507.6M187.9 513.4L192.8 513.6M184.5 507.6L185.4 509.0M184.7 509.0L185.0 510.0M183.7 496.0L186.5 498.0M189.3 505.1L191.0 506.4M190.6 503.4L191.3 504.2M194.3 493.5L195.5 494.9M191.3 502.3L192.2 505.3M189.8 501.4L190.5 502.7M185.2 494.7L186.1 496.0M197.4 493.3L198.8 493.3M194.1 496.7L196.3 498.4M189.8 493.3L192.2 496.6M188.9 490.9L192.6 490.8M194.9 499.9L195.8 502.5M190.3 499.3L192.6 500.1M181.1 494.9L184.3 498.3M199.9 497.3L200.9 501.2M191.2 500.0L195.7 501.1M196.2 495.6L198.7 499.4M207.4 495.1L210.7 496.3M206.8 493.8L207.3 495.3M200.5 479.4L204.7 481.5M208.3 484.0L210.2 484.1M210.5 489.7L213.6 493.6M203.1 490.2L205.5 493.1M206.9 487.8L210.7 487.6M202.5 494.2L203.6 497.6M202.9 483.4L204.1 483.8M195.7 489.4L197.1 490.0M207.0 495.5L210.9 496.7M198.1 491.1L200.6 492.0M202.9 489.6L203.8 491.9M196.9 491.0L197.8 492.7M205.8 488.2L210.4 489.0M206.0 488.9L208.8 491.4M204.5 501.3L207.7 502.8M203.9 497.9L205.0 497.9M200.5 462.9L204.6 463.3M213.6 475.8L214.7 476.6M205.1 466.3L206.1 467.9M213.2 479.7L215.4 480.7M208.6 474.0L211.5 477.2M208.8 485.5L210.1 486.2M208.3 467.8L209.7 468.8M209.0 474.7L210.3 474.8M212.9 473.2L214.8 473.2M205.0 472.4L207.1 476.7M202.0 463.1L206.4 463.7M209.1 484.0L213.6 485.3M210.7 466.8L212.4 467.5M210.4 476.5L215.3 476.9M215.6 480.2L216.5 480.9M206.7 467.4L208.3 468.6M205.5 471.2L208.0 475.3M203.7 465.0L207.9 466.9M201.0 481.9L202.9 481.9M202.3 476.1L204.0 476.3M211.3 470.6L212.0 471.4M205.9 474.4L209.8 477.2M202.8 461.7L203.6 463.2M206.7 480.8L207.4 482.9M207.8 477.5L209.3 478.2M209.2 486.2L210.6 487.6M206.6 472.1L208.0 472.4M207.0 483.0L209.6 485.0M211.8 479.6L214.0 480.9M210.8 463.5L211.5 465.4M207.0 461.3L209.1 461.2M211.3 448.4L212.5 450.8M213.4 451.6L214.5 452.4M204.6 449.6L207.8 452.4M209.6 462.5L213.3 463.1M203.7 456.2L206.6 457.5M205.3 459.9L208.4 461.9M199.6 457.6L202.7 459.6M214.0 455.4L215.1 457.0M221.1 454.4L223.7 454.9M206.9 449.6L207.7 450.9M211.1 461.0L212.1 461.3M206.7 455.1L210.2 458.3M208.4 457.0L210.1 459.2M214.4 458.5L216.9 458.8M222.6 439.4L225.1 442.0M225.4 439.2L227.3 439.9M224.6 446.8L226.6 450.8M218.7 450.2L220.0 451.8M212.9 448.8L216.7 449.4M214.7 445.4L215.0 446.4M228.3 442.8L228.8 444.3M217.1 441.1L218.8 442.2M216.5 450.6L217.8 450.7M220.0 440.0L221.5 441.9M220.3 452.0L221.5 455.0M213.2 445.6L214.3 447.1M218.8 436.3L222.1 436.5M222.5 442.3L223.9 442.6M213.6 436.6L215.4 436.8M212.2 445.7L214.7 446.4M219.1 438.4L222.9 438.2M212.7 442.0L216.0 445.2M212.3 441.1L213.7 442.6M215.9 446.7L218.9 450.5M210.1 439.0L213.7 440.3M220.4 442.4L221.7 443.3M226.8 435.8L229.8 436.1M227.7 432.8L228.4 434.0M225.4 429.2L227.0 430.3M225.4 433.3L227.9 436.5M232.2 436.7L233.9 441.2M221.5 431.1L222.6 431.4M230.7 434.2L232.2 435.8M233.4 430.8L236.0 430.8M232.7 424.5L234.8 424.4M226.4 436.9L229.5 437.3M226.7 436.3L230.7 437.0M229.5 435.9L229.9 437.3M234.3 432.2L236.2 436.5M233.7 426.0L237.0 428.1M224.2 434.0L228.9 434.9M232.7 428.2L235.4 429.0M249.5 422.8L251.1 423.4M241.8 426.4L243.9 430.3M238.5 431.6L240.4 434.4M248.7 421.6L251.0 422.7M239.5 421.9L241.4 422.0M248.0 427.2L252.6 428.3M247.2 414.9L249.6 418.1M238.2 423.6L238.9 425.0M238.7 421.9L239.9 423.9M248.8 421.9L250.2 425.6M244.2 420.7L248.7 420.6M240.1 420.3L242.5 424.1M244.4 430.6L245.8 431.0M236.9 428.6L238.1 428.6M237.1 423.6L239.3 425.0M248.1 417.4L249.2 420.1M243.6 430.2L245.0 433.2M245.6 424.9L247.9 426.4M249.4 413.2L251.6 414.2M252.2 418.6L254.2 420.4M254.8 414.2L257.8 414.4M258.2 409.6L260.6 413.0M262.2 412.1L263.0 414.7M260.3 414.0L262.5 414.8M251.4 416.1L253.7 418.0M264.3 432.7L267.5 435.4M257.4 405.7L260.5 408.2M261.3 410.0L265.0 412.6M261.8 410.4L263.0 411.4M256.1 406.8L258.2 407.3M258.0 416.1L259.1 416.8M253.1 414.4L255.0 414.9M247.4 411.6L250.7 414.7M256.1 412.1L258.5 415.1M255.3 404.9L255.7 406.0M266.5 415.0L267.5 416.2M272.5 407.6L273.1 409.9M265.8 408.0L268.9 409.7M265.4 410.2L266.7 410.4M265.1 404.2L267.4 405.7M275.2 402.3L276.7 403.3M264.4 408.8L267.5 412.5M267.7 407.9L269.8 409.1M269.8 410.9L270.6 411.6M275.5 410.5L278.8 411.9M267.3 404.4L269.9 407.4M269.6 411.4L271.5 415.1M268.9 399.0L270.9 400.7M267.7 416.5L269.4 420.3M264.2 402.0L268.3 403.9M269.8 405.9L271.0 409.2M264.5 402.4L265.6 404.2M269.2 409.9L273.5 411.8M264.0 403.3L267.7 403.8M280.5 408.4L284.7 408.4M280.0 404.4L282.3 407.6M289.2 400.0L293.9 400.2M278.7 401.2L279.9 401.8M282.2 391.2L282.5 392.3M279.5 408.4L280.5 409.5M278.8 402.3L281.4 404.9M288.7 394.5L290.6 395.1M278.9 403.1L280.5 403.4M287.6 404.5L288.3 405.3M287.6 401.2L289.7 403.0M278.6 392.4L280.7 396.6M279.6 407.9L282.1 408.3M122.0 649.2L129.4 651.9M116.0 637.7L123.4 641.7M124.9 635.6L132.3 639.0M140.9 623.9L148.8 627.2M119.1 617.2L123.5 620.6M125.3 619.6L129.6 621.5M122.5 617.0L129.1 620.4M133.4 627.6L136.6 630.4M147.1 623.0L150.7 627.3M136.0 598.4L142.5 601.3M134.8 594.6L141.1 597.4M140.7 600.3L146.2 602.4M150.3 593.1L155.1 596.3M148.7 591.0L152.1 592.6M140.1 595.0L147.9 598.6M146.3 582.8L153.9 586.6M149.5 570.1L152.8 573.1M141.3 556.0L145.6 559.2M139.7 564.0L144.3 566.4M152.7 557.9L160.2 562.4M155.5 564.0L159.4 566.9M146.0 565.7L150.3 567.6M162.1 535.1L164.9 536.2M178.7 543.8L186.0 547.0M145.7 537.7L151.3 540.9M168.0 527.5L172.5 532.3M163.5 525.8L171.4 529.2M175.1 527.3L179.1 530.2M171.0 520.0L174.5 523.1M163.3 519.5L170.0 525.0M164.4 513.8L167.5 517.1M169.7 515.8L175.6 518.5M174.9 500.9L180.2 504.3M169.4 505.6L173.2 508.0M180.3 508.2L184.7 511.2M179.9 511.1L186.2 514.3M186.1 511.8L192.4 514.5M188.1 507.8L191.1 511.2M186.9 495.9L191.1 499.6M201.0 510.6L208.4 513.8M200.7 501.3L203.9 503.1M197.3 498.0L203.2 501.8M211.1 490.9L214.7 493.1M206.1 488.3L209.4 492.1M206.5 489.3L210.7 493.0M201.7 498.4L208.9 503.7M201.6 485.6L206.2 489.4M209.3 486.7L213.5 490.8M207.1 495.9L212.0 500.2M213.7 466.7L216.4 469.2M200.4 486.5L206.6 490.1M199.8 462.6L202.3 464.3M212.6 466.6L220.1 470.0M200.9 477.9L203.3 479.9M224.0 474.0L231.4 478.2M195.0 446.2L199.1 449.0M200.2 453.4L206.0 457.1M208.9 454.3L215.6 457.9M218.5 433.2L223.2 435.8M217.4 443.0L221.5 445.5M228.1 436.6L233.3 441.0M218.9 428.7L221.6 430.3M233.7 441.5L238.1 445.5M247.0 430.1L253.2 435.6M250.5 420.6L258.0 424.7M249.9 423.4L253.7 427.5M245.5 419.0L249.3 423.1M251.8 420.7L256.3 423.4M254.7 415.6L259.9 420.0M246.3 414.1L251.4 418.4M258.3 424.1L264.1 427.0M242.9 409.6L248.9 413.0M250.9 414.8L258.1 419.1M266.0 414.2L273.3 417.9M269.6 403.7L275.3 409.1M273.5 404.7L280.8 409.8M267.9 407.5L273.8 413.1M269.9 415.6L274.0 419.5M268.5 405.9L271.8 407.2M285.9 400.0L293.2 405.1M281.6 393.8L284.5 396.9M284.7 400.1L288.4 402.9M288.8 396.4L293.6 400.4M281.2 403.2L284.7 406.8M327.9 363.5L329.7 360.1M331.0 364.7L333.4 361.2M341.6 360.0L345.5 360.1M344.2 358.6L347.8 357.0M347.7 359.6L349.3 356.7M352.3 355.2L353.7 352.3M352.0 350.1L355.9 348.3M352.2 348.6L355.6 348.1M361.4 348.1L363.1 347.3M362.0 342.9L366.0 343.1M364.5 346.7L365.8 345.9M367.0 350.8L370.2 349.7M370.9 345.9L372.1 344.6M368.8 343.1L369.7 341.3M372.4 342.0L377.3 341.6M363.5 340.8L366.4 337.0M365.6 340.7L369.6 338.7M374.2 334.9L377.6 332.3M376.0 335.0L378.3 334.6M379.3 337.3L381.9 333.2M379.7 333.3L383.6 332.3M383.6 330.7L386.3 327.8M388.0 324.7L390.6 322.7M391.8 320.2L394.8 317.1M386.5 319.7L389.0 317.2M390.4 314.3L391.5 310.1M391.2 312.3L392.9 311.4M399.7 315.5L403.5 314.7M404.8 315.2L405.9 312.4M401.4 315.6L404.2 315.3M406.7 311.5L409.4 309.4M408.9 310.9L410.5 310.7M412.6 309.4L414.5 308.2M410.6 301.0L412.5 298.0M415.1 304.3L417.0 303.6M421.8 296.4L423.5 296.3M417.5 295.9L419.4 294.5M426.0 294.8L429.0 291.8M424.7 296.2L426.3 292.6M430.1 286.9L433.0 286.1M435.0 284.2L437.5 282.5M435.1 281.2L438.2 280.7M437.7 281.1L440.9 279.8M439.5 278.9L441.3 278.7M448.4 278.6L451.8 277.0M450.8 277.2L454.6 276.0M452.3 275.1L453.2 272.2M451.8 274.5L453.1 273.1M458.6 271.7L460.5 271.3M457.3 267.1L458.5 263.3M458.6 272.4L460.0 271.1M457.6 263.3L459.8 261.2M455.6 258.5L458.5 258.1M459.3 257.5L460.3 254.6M457.8 253.1L459.3 250.2M457.2 246.7L459.6 246.6M453.1 257.5L455.4 254.7M466.3 235.9L467.3 233.6M462.6 242.4L463.2 240.5M460.6 246.0L461.5 243.9M463.3 235.8L463.6 232.3M464.4 237.7L463.2 234.1M463.3 239.4L462.0 236.5M463.2 237.3L463.6 234.7M461.4 240.8L461.8 238.8M461.4 246.4L464.0 246.5M457.7 243.8L459.9 243.4M464.8 235.5L465.4 231.6M466.7 235.1L469.6 235.3M465.2 234.1L468.4 232.8M460.0 245.6L460.3 242.7M461.2 240.3L462.6 240.0M457.3 243.7L458.5 243.3M462.5 232.3L463.6 230.2M463.2 233.3L464.5 230.8M463.8 236.3L467.3 238.1M465.0 225.0L465.2 221.8M467.6 228.2L471.2 228.8M465.2 227.4L466.6 224.3M466.8 228.4L468.4 227.9M465.4 229.9L464.9 228.4M464.5 232.6L466.6 233.0M463.6 230.9L462.3 228.9M466.2 228.8L468.4 229.3M473.8 234.2L473.0 232.9M470.4 232.4L471.7 231.1M476.7 231.4L478.2 231.9M464.7 230.3L468.1 229.6M470.9 231.5L472.4 230.3M469.4 228.0L472.1 227.5M474.0 229.4L476.8 229.6M475.4 232.1L476.0 230.8M475.4 225.5L479.0 224.2M472.4 229.1L474.4 226.5M471.6 233.3L471.9 230.2M471.7 233.1L471.2 230.6M474.5 222.6L477.5 222.7M472.5 222.6L472.3 221.2M472.3 234.3L474.4 235.4M473.1 224.9L474.7 223.9M471.3 228.7L472.8 227.2M474.1 222.1L474.0 220.0M475.8 232.9L478.9 233.4M471.6 218.1L472.7 217.4M471.4 220.7L473.2 219.3M471.1 219.7L470.0 216.6M472.7 217.6L476.6 218.6M473.9 221.4L476.9 222.2M471.9 215.4L472.1 212.6M468.5 221.5L471.5 221.3M474.4 216.1L477.0 217.1M472.8 213.3L475.4 211.4M472.7 212.9L476.5 212.0M471.6 213.1L472.9 213.5M469.5 213.6L469.6 211.3M483.6 214.3L485.8 212.4M479.6 218.4L481.3 219.3M480.2 214.1L481.4 210.9M480.7 216.3L479.6 214.6M486.3 214.2L485.7 210.7M480.6 216.2L481.1 214.6M479.3 214.2L482.0 213.6M483.5 216.1L486.9 216.5M484.0 217.7L485.8 217.8M477.4 209.6L480.8 209.5M476.9 210.7L478.6 211.8M475.9 210.1L479.3 209.1M484.0 213.7L484.2 211.0M478.0 209.2L481.0 208.5M477.2 211.3L479.3 211.2M482.2 215.2L483.9 215.3M480.0 216.1L481.6 216.5M479.8 209.4L479.1 207.7M478.2 208.8L479.4 206.7M481.7 214.7L485.0 214.1M480.9 209.3L480.3 207.1M476.9 206.6L477.4 204.7M477.0 203.7L478.5 202.0M478.7 205.1L478.9 203.7M477.6 202.9L477.2 200.5M479.8 199.4L480.5 198.0M475.1 202.1L477.9 203.3M477.7 200.8L480.1 197.9M485.1 196.8L484.2 193.1M481.1 191.4L479.3 188.3M481.0 200.2L482.8 200.4M479.9 196.3L483.1 196.5M484.5 195.7L484.6 193.4M482.8 199.7L484.9 198.8M484.0 192.2L486.1 190.3M489.9 191.8L490.8 190.4M487.9 194.9L488.9 193.3M486.0 189.5L487.4 188.5M485.8 196.3L487.0 193.1M491.7 192.2L493.8 190.5M489.2 191.6L492.2 190.6M494.9 188.9L493.7 186.4M490.3 191.2L489.1 188.9M492.8 188.8L493.9 187.3M490.4 191.6L492.8 191.8M495.6 184.0L497.7 183.2M492.4 185.8L495.1 187.4M496.0 180.5L496.1 176.9M495.7 182.8L499.0 183.6M495.0 184.5L495.7 181.4M497.5 179.0L500.4 177.1M498.4 176.4L497.0 174.0M494.9 178.9L495.4 177.2M494.8 181.6L493.1 178.6M492.6 182.5L491.5 180.9M497.6 170.2L500.6 169.7M496.2 171.6L499.1 170.0M495.9 173.8L497.1 170.8M496.1 175.4L497.6 175.2M496.4 175.9L497.8 174.5M500.1 170.2L500.7 166.9M497.5 172.2L498.5 172.8M499.9 176.6L499.8 174.2M500.6 169.3L498.6 166.2M498.9 167.5L498.2 165.4M500.1 168.1L501.3 166.4M503.4 164.6L505.6 164.3M499.2 165.1L498.3 161.5M500.2 168.7L503.6 170.1M510.0 158.4L512.1 158.8M510.5 160.5L510.3 157.6M513.8 157.6L512.8 155.9M504.5 164.0L505.8 162.9M501.5 159.6L501.0 157.9M506.0 157.4L508.0 158.3M511.8 154.4L513.5 154.9M514.6 160.4L513.6 156.9M510.2 157.4L511.5 158.1M510.0 157.7L510.8 154.7M512.3 161.6L513.9 158.6M511.8 158.6L512.4 156.0M508.8 162.4L511.1 161.7M528.2 153.4L530.6 152.4M529.0 149.5L530.8 149.2M530.2 151.6L530.0 150.3M530.5 150.5L529.1 147.6M532.7 148.6L533.9 148.8M531.2 150.9L534.2 151.6M538.3 152.2L539.5 150.1M537.7 151.2L539.8 151.2M537.8 149.2L538.9 146.7M539.5 153.6L538.4 151.7M548.1 159.5L549.6 156.7M551.2 148.9L553.3 146.8M553.0 151.2L556.1 150.8M553.3 152.1L555.8 151.2M564.2 149.2L565.2 148.1M563.3 145.4L563.6 143.3M561.9 147.3L563.3 147.7M565.1 146.8L566.6 145.3M565.6 148.6L569.0 148.6M565.5 152.0L568.7 152.2M565.5 150.4L568.1 148.9M565.3 151.3L568.5 151.2M564.7 159.9L567.4 160.7M563.1 157.7L561.2 155.3M567.2 160.1L569.7 160.5M571.6 155.2L574.4 155.7M570.1 158.7L570.3 156.2M571.4 157.2L573.2 156.3M571.8 155.2L570.6 153.4M573.9 153.8L573.2 152.0M575.9 159.9L575.6 156.9M582.1 163.2L581.5 161.7M579.7 166.3L579.9 164.1M583.5 165.0L585.7 165.2M586.1 170.4L587.6 168.1M587.7 171.2L588.1 168.4M588.4 171.5L588.0 170.0M642.8 71.0L646.2 67.9M646.6 72.0L647.5 65.1M646.1 71.7L646.9 67.7M642.6 68.0L647.9 62.9M648.5 70.5L649.4 65.5M643.9 70.6L645.3 67.4M636.0 61.8L637.3 54.8M633.8 68.1L636.2 61.1M638.9 68.3L644.3 66.1M636.9 64.9L637.4 62.4M634.6 71.8L637.8 64.9M629.1 71.8L633.0 67.3M629.7 72.0L629.9 68.6M631.4 74.6L634.9 69.3M624.6 73.1L624.1 69.2M628.6 74.9L630.8 73.2M631.3 88.7L636.1 84.0M631.1 79.8L633.8 76.9M631.1 79.9L633.0 75.0M629.2 83.2L631.2 81.8M626.2 90.4L630.3 87.1M635.7 84.6L635.7 81.1M632.2 88.9L633.6 86.8M627.8 88.4L633.7 84.1M629.4 79.9L630.7 76.1M627.0 101.6L630.1 95.5M631.8 97.3L635.4 95.3M627.7 94.6L633.3 91.3M628.4 94.7L631.5 92.4M624.6 87.8L626.7 87.0M628.9 98.1L631.0 93.2M623.7 99.9L623.6 97.1M624.0 95.3L626.1 94.3M632.1 96.1L634.4 94.3M627.8 105.6L633.6 102.6M624.7 105.0L626.3 97.4M629.0 101.8L632.3 95.9M627.5 108.6L630.8 105.2M633.3 97.1L632.1 89.8M627.2 101.0L629.6 99.5M627.7 104.7L633.3 102.6M624.5 98.0L624.1 92.6M630.1 108.1L636.4 104.9M627.6 108.7L629.0 103.3M620.3 110.8L622.3 109.4M629.7 109.0L629.7 104.4M624.0 113.4L623.5 109.8M625.6 108.4L627.0 102.5M628.1 111.4L632.5 106.9M617.2 114.0L617.7 111.8M617.9 116.8L624.1 113.3M616.4 113.5L616.6 109.9M616.9 121.0L618.2 117.1M623.0 114.7L626.4 112.5M619.2 113.7L623.4 108.1M610.1 127.7L616.0 122.4M613.4 125.6L616.6 124.2M617.8 131.4L618.8 126.2M610.4 128.0L613.5 126.2M620.1 121.3L623.2 114.2M619.3 125.1L623.6 121.0M618.9 131.1L618.4 124.9M189.6 809.9L190.5 813.8M199.0 807.2L199.4 811.6M194.7 805.8L196.8 811.5M197.0 799.6L197.4 802.2M192.9 794.3L198.1 798.4M193.5 798.2L196.2 802.0M205.7 802.3L208.0 804.1M205.0 797.3L205.3 799.8M199.0 796.8L202.3 798.8M205.2 790.7L205.2 793.4M208.6 793.2L212.4 798.9M205.4 795.3L206.7 797.3M205.5 789.3L207.0 790.7M209.1 797.6L209.3 799.7M206.3 790.8L208.5 796.0M215.4 786.7L217.0 791.2M208.7 784.6L209.4 791.6M213.7 787.6L217.3 791.1M208.9 783.7L212.9 789.0M208.2 774.2L208.5 776.8M221.7 783.3L224.6 788.1M220.1 782.6L220.6 784.0M209.5 788.8L211.9 793.2M218.7 782.5L222.6 788.1M215.9 780.2L216.3 781.6M218.4 780.2L219.0 784.4M215.0 782.9L219.7 786.3M216.3 770.3L218.5 773.5M221.3 771.3L222.2 776.4M219.3 774.7L223.9 779.4M220.7 769.1L226.4 772.9M224.9 767.0L226.1 768.8M220.2 760.9L221.5 761.8M213.2 764.2L213.9 768.5M220.7 760.1L226.7 763.6M224.4 755.2L225.4 759.8M224.7 753.5L225.4 756.1M219.8 757.1L219.8 758.9M222.2 761.5L223.5 765.7M220.0 757.3L223.2 761.8M229.6 744.6L230.8 749.1M232.5 753.9L234.2 755.0M228.3 755.7L229.6 760.4M230.8 749.1L231.7 753.9M227.2 746.8L232.0 750.7M232.5 747.8L234.8 749.7M230.6 745.1L234.0 750.7M236.9 738.0L239.4 743.3M238.4 746.5L240.1 747.8M231.9 737.4L233.1 738.4M231.8 745.9L232.9 746.9M235.8 743.1L238.3 746.0M239.2 742.3L240.3 746.4M233.1 743.0L233.5 747.0M227.1 724.2L229.4 728.2M229.4 730.7L231.4 735.5M227.0 727.8L232.2 730.9M226.0 723.8L230.7 727.0M231.7 728.2L232.9 734.2M230.2 719.5L233.4 722.9M230.1 731.6L230.6 734.1M231.5 729.6L233.3 734.3M230.1 716.3L231.2 718.4M223.5 720.7L226.3 722.7M230.5 719.2L232.3 723.3M226.2 723.5L228.3 727.8M229.8 717.1L231.4 720.1M231.1 722.8L233.9 728.3M228.8 707.1L229.0 713.9M225.5 712.5L227.2 716.0M230.3 703.1L232.3 706.4M235.0 703.3L235.0 710.3M228.4 711.3L228.6 715.3M227.3 715.2L229.6 718.9M229.4 713.6L232.4 716.2M230.0 707.5L231.8 710.7M222.1 716.0L224.4 718.5M225.7 699.8L229.0 697.9M229.0 699.3L230.7 697.6M231.0 695.3L233.7 697.2M230.0 692.3L232.5 694.0M227.5 697.7L230.0 697.8M229.6 697.0L231.6 693.4M227.0 695.5L230.8 693.1M228.8 690.7L231.6 688.2M222.3 690.5L222.8 686.4M221.3 694.2L223.1 693.1M225.9 689.5L225.8 687.7M222.1 688.0L223.4 687.1M221.6 687.3L224.4 687.4M222.4 686.6L222.2 682.6M228.3 691.7L228.7 688.9M217.6 684.6L220.6 684.6M217.8 680.1L221.4 682.3M217.4 685.5L221.6 685.8M219.1 683.6L222.5 686.0M217.4 688.8L219.2 689.2M217.8 678.3L217.3 675.2M213.4 682.4L214.9 678.6M222.4 688.0L222.5 686.5M220.4 668.8L220.1 665.9M220.0 679.1L222.5 678.2M221.1 671.0L221.2 669.6M219.5 672.3L223.1 674.9M221.4 671.6L223.9 673.6M216.0 675.2L216.4 672.0M221.9 671.1L223.6 672.3M215.0 665.0L215.3 661.2M218.8 663.8L222.4 662.9M221.5 669.0L222.7 665.9M221.5 669.1L223.7 668.2M222.5 665.0L226.3 663.5M215.5 672.4L217.3 672.0M218.0 660.2L221.0 658.2M221.2 661.5L223.9 662.2M218.7 666.1L220.0 663.5M217.2 663.8L218.5 662.3M214.3 661.5L215.6 661.2M218.2 660.1L218.7 657.7M224.3 663.3L225.8 662.9M218.3 666.6L222.3 665.2M235.6 664.6L238.0 663.0M231.5 664.8L231.1 662.5M234.0 662.2L236.5 660.8M228.2 664.6L231.4 663.6M228.9 661.8L232.1 659.5M238.6 667.1L240.2 666.4M247.2 662.3L250.3 663.5M241.4 662.5L242.1 658.5M235.6 662.6L235.6 659.5M246.1 661.6L246.8 659.4M241.9 663.4L241.7 660.0M245.3 659.5L248.1 660.6M246.0 657.6L247.7 657.5M250.3 648.1L253.8 647.7M248.1 656.0L250.8 653.6M244.4 655.5L244.4 653.4M251.5 650.7L252.3 649.5M252.0 649.6L255.2 649.5M249.9 651.4L251.5 650.5M250.4 649.1L253.1 648.1M247.0 642.0L249.1 639.9M249.9 639.6L252.9 641.2M241.2 642.7L243.1 639.3M244.1 645.6L247.0 646.5M240.3 646.2L241.4 643.9M252.3 645.4L254.9 643.9M246.9 648.9L249.9 648.7M249.2 646.4L251.8 643.0M242.5 640.4L242.7 638.0M242.8 640.5L244.2 638.9M238.5 637.2L239.9 637.7M236.3 640.4L239.9 638.7M240.6 637.3L243.9 637.8M242.8 639.3L244.6 637.2M245.8 634.6L245.7 631.5M241.1 635.6L244.8 636.7M240.3 631.6L244.0 632.6M245.1 626.6L247.5 623.3M247.5 628.1L248.6 629.0M249.7 626.0L251.3 624.1M248.7 625.8L250.9 624.1M246.5 622.6L247.0 619.8M246.3 624.2L246.2 619.9M250.9 625.5L251.2 623.5M249.0 623.8L251.0 622.2M250.6 617.4L251.1 615.8M256.6 620.5L258.0 620.5M253.0 619.5L254.7 618.0M250.3 619.5L252.8 619.3M248.4 619.0L251.8 619.0M251.4 621.6L251.6 620.0M249.8 620.3L251.6 621.2M250.2 612.9L250.8 609.5M252.4 610.7L254.9 608.6M247.6 611.4L247.8 609.0M252.1 606.2L254.3 607.1M251.7 608.0L252.5 606.3M244.2 610.6L247.5 612.9M247.1 603.7L250.4 606.2M245.8 599.2L246.3 596.3M248.4 604.0L251.2 605.1M247.2 599.8L248.3 596.6M251.8 602.6L251.9 599.8M241.6 588.9L243.7 585.6M243.9 589.8L243.7 588.3M245.5 590.5L247.6 591.8M245.9 591.4L247.1 590.7M245.2 593.4L248.6 595.5M244.2 590.0L245.9 589.3M243.1 588.8L242.9 587.5M244.5 588.8L248.8 587.7M247.9 587.7L251.3 585.5M238.4 576.7L240.0 575.6M238.2 586.8L239.9 586.8M237.6 579.7L242.0 579.7M234.5 579.3L238.1 580.3M242.0 583.7L245.9 585.7M236.1 577.2L238.8 577.8M234.2 577.9L237.1 577.4M238.7 587.6L240.1 588.0M238.2 574.2L241.6 574.5M235.3 568.9L237.9 567.5M237.5 571.7L239.0 571.7M243.0 563.3L244.0 562.1M239.3 565.4L243.0 567.0M243.3 564.9L245.0 565.5M239.6 565.7L242.3 565.8M240.9 563.2L242.0 560.6M243.0 568.0L245.8 567.6M254.3 559.9L255.9 561.0M245.9 565.0L246.7 561.0M243.4 562.2L244.0 560.1M246.3 564.8L247.8 564.4M251.2 563.7L253.2 560.6M254.1 562.2L255.8 561.7M251.4 561.4L253.0 560.0M253.2 560.0L256.6 558.7M246.0 560.5L248.5 558.9M256.7 558.5L258.4 559.0M266.4 559.9L267.5 560.6M255.3 560.2L257.0 560.4M255.4 562.0L255.4 559.2M264.8 559.6L268.5 557.3M267.3 559.8L268.9 559.0M257.3 558.0L258.3 555.0M263.9 554.3L264.0 550.3M262.6 556.6L264.0 553.4M270.0 549.1L271.9 546.0M270.0 550.2L273.3 548.8M266.4 550.7L266.4 547.9M270.9 551.1L271.7 549.5M268.9 546.5L271.0 546.6M271.1 558.5L273.9 560.2M266.9 550.4L269.1 546.8M268.2 556.6L272.2 557.6M273.7 550.7L273.7 546.8M274.1 539.5L276.8 539.3M275.5 541.7L278.0 540.2M276.9 538.3L276.8 541.8M279.0 528.3L280.0 529.3M275.9 526.2L279.4 525.8M283.8 517.8L283.2 520.4M276.1 525.9L277.4 526.5M283.5 511.4L284.1 513.4M287.4 506.1L287.7 508.9M283.7 509.4L284.5 510.7M295.6 503.1L296.9 502.9M290.9 505.2L291.5 508.6M294.0 500.1L293.0 502.9M298.6 496.0L300.7 497.1M298.7 502.7L298.4 505.8M298.6 495.8L298.6 497.3M303.6 489.0L306.2 490.1M303.1 489.1L302.9 491.1M300.9 493.5L304.5 493.7M305.5 494.2L304.3 498.0M311.1 482.6L313.5 483.5M312.6 480.9L314.1 481.1M312.7 484.6L314.1 484.7M328.3 475.7L331.5 477.2M320.6 476.4L320.2 478.2M328.9 472.3L330.0 475.2M330.7 468.4L334.2 469.3M343.2 452.7L344.4 454.9M337.5 455.7L338.7 456.0M337.5 455.9L339.3 457.7M345.7 447.6L347.7 448.6M349.0 450.1L351.6 451.9M357.4 437.1L356.8 439.2M361.1 434.5L363.2 435.8M371.3 427.1L373.0 426.9M369.4 427.9L370.3 430.1M374.4 429.0L375.5 429.7M270.1 549.9L273.6 545.2M275.3 552.6L277.0 550.0M277.4 548.2L280.7 543.3M276.5 549.8L279.0 548.8M267.6 550.8L269.3 548.7M274.1 546.9L278.2 542.7M266.6 547.8L269.5 543.5M254.4 614.9L256.0 613.4M249.0 609.0L251.0 606.6M252.7 611.7L255.1 610.6M245.1 615.1L249.6 613.3M247.8 616.2L250.3 612.3M247.9 619.4L250.9 616.7M250.4 607.5L254.0 605.6M248.6 655.6L251.2 653.5M244.3 654.4L247.9 650.9M246.3 653.1L250.4 650.3M244.2 651.4L247.8 646.9M246.6 650.3L249.7 648.4M248.2 652.2L252.1 650.6M245.9 658.0L248.3 656.6M222.6 668.7L226.9 666.8M221.2 670.5L223.5 669.9M214.4 669.3L218.0 667.3M218.5 668.0L220.7 664.6M214.6 667.8L220.1 666.3M219.5 672.8L223.2 669.8M222.5 671.1L226.2 670.3M244.8 600.7L247.9 596.5M247.5 599.4L250.9 597.1M245.4 599.7L247.6 596.5M252.0 593.7L253.5 591.4M251.2 600.1L253.7 596.8M252.4 594.5L256.4 592.7M247.4 597.0L249.5 595.7M622.6 248.9L625.9 246.5M619.2 250.6L621.9 249.8M602.8 256.6L604.6 254.6M618.9 253.9L622.3 249.2M620.0 250.8L623.7 250.5M603.9 258.0L606.4 257.4M612.7 251.5L617.0 249.6M614.8 253.8L620.5 252.7M611.7 253.9L614.9 251.6M604.4 257.2L607.9 256.8M614.6 253.7L620.2 253.1M612.0 254.0L616.0 250.5M616.5 253.9L619.3 251.5M623.2 250.3L629.0 250.1M614.3 252.9L617.7 249.0M618.9 252.7L622.9 251.4M611.8 253.0L613.3 250.8M625.5 247.3L628.2 246.1M635.8 242.8L637.9 242.6M634.0 241.9L635.7 239.0M629.8 245.8L633.1 245.7M639.4 241.3L644.1 238.6M626.8 245.4L628.8 242.0M642.7 240.6L644.8 239.4M633.1 243.3L636.7 239.1M624.8 243.0L626.7 240.6M630.0 246.2L632.1 246.1M629.4 246.2L634.6 244.4M623.8 248.0L626.2 246.6M627.8 246.4L629.7 243.9M640.7 238.1L644.5 237.2M588.3 265.9L590.7 265.1M596.9 262.4L598.0 262.8M597.2 259.1L601.1 258.5M585.4 267.6L586.5 268.0"/>
<ellipse cx="221.3" cy="396" rx="10" ry="2" transform="rotate(-28 221.3 396)" fill="#fff"/>
<polyline points="209,379 214,378 224,379.5 218,382 209,382.5 222,384"/>
<polyline points="193,373 200,373.5 209,371 214,369"/>
<polyline points="403.5,221 400.3,227 400.3,234 404.5,239 411.5,243 414,246 413.5,251 418,252.5"/>
<polyline points="406,221 403,226.7 404,231.5 408.8,232.5 414.1,232 414.6,240.2 417,243 417,248.8"/>
<rect x="408.4" y="233" width="3.3" height="4.3" fill="#000"/>
<rect x="407.5" y="259.5" width="2.5" height="2.5" fill="#000"/>
<ellipse cx="225" cy="741" rx="3.5" ry="9" transform="rotate(-25 225 741)"/>
<ellipse cx="95.5" cy="752" rx="2" ry="11" transform="rotate(-8 95.5 752)"/>
<rect x="71" y="675" width="5" height="6.5" fill="#000"/>
<polyline points="70,614 76.5,618.5 83,615"/>
<polyline points="68.5,624 73,628 76,631 79,635" stroke-width="2"/>
<ellipse cx="407" cy="306" rx="9" ry="2.2" transform="rotate(-58 407 306)"/>
<ellipse cx="409.5" cy="308" rx="8" ry="2" transform="rotate(-55 409.5 308)"/>
<ellipse cx="404" cy="311" rx="6" ry="1.5" transform="rotate(-40 404 311)"/>
<ellipse cx="452" cy="281" rx="7" ry="2" transform="rotate(-35 452 281)"/>
<ellipse cx="457" cy="284" rx="6" ry="1.5" transform="rotate(-25 457 284)"/>
<ellipse cx="351" cy="352.5" rx="3.5" ry="3.5" transform="rotate(0 351 352.5)"/>
<ellipse cx="338.5" cy="361" rx="4" ry="2.5" transform="rotate(-30 338.5 361)"/>
<ellipse cx="443.5" cy="270" rx="1.2" ry="3" transform="rotate(0 443.5 270)"/>
<ellipse cx="372" cy="342" rx="3" ry="1.5" transform="rotate(20 372 342)"/>
<polyline points="600,71 603.5,82 604.5,95 604,107 600.5,117 594.5,124" stroke-width="2"/>
<path d="M618.9 81.6L622.1 75.7M622.8 72.7L624.5 66.2M621.5 70.9L623.9 63.9M618.4 78.8L621.2 74.5M620.7 75.1L623.2 71.3M618.4 71.3L619.8 65.0M617.6 72.6L620.0 66.3M620.5 70.8L623.5 66.6M621.1 74.4L622.2 71.3M613.7 92.9L616.2 88.5M616.7 82.2L619.2 77.2M614.2 89.8L614.9 86.7M610.9 94.7L613.3 89.6M613.0 91.4L616.7 86.1M615.9 83.6L619.9 77.9M614.2 93.7L616.4 88.5M618.3 83.4L620.7 79.3M613.7 93.2L616.1 87.2M616.6 88.0L619.0 84.4M603.4 108.9L605.4 105.9M602.7 110.1L604.2 105.8M606.7 106.0L610.2 102.0M604.8 104.3L606.9 101.2M601.7 106.5L604.8 101.6M601.9 113.3L604.6 109.2M600.9 115.5L603.8 109.8M597.8 110.2L600.1 105.9M603.0 108.4L605.3 103.1M605.4 104.9L607.1 101.1M593.3 117.0L597.8 111.8M597.6 117.6L600.0 112.5M597.7 115.6L598.8 112.3M600.9 118.3L604.9 112.8M596.7 119.7L598.7 116.8M593.9 124.4L596.4 118.2M596.1 124.0L598.0 118.9M595.1 123.1L596.9 117.4M597.9 123.2L599.9 119.3M601.9 78.3L602.8 82.8M606.0 99.5L607.3 106.7M602.9 83.9L603.5 90.4M605.8 82.5L607.7 87.8M601.2 72.1L601.3 75.2M605.2 93.9L605.9 100.3M601.6 74.7L602.7 80.4M605.2 85.1L606.4 91.7"/>
<ellipse cx="341.5" cy="634" rx="4.5" ry="4.5"/>
<ellipse cx="693.7" cy="230" rx="6.5" ry="2.2" transform="rotate(-36 693.7 230)"/>
<ellipse cx="79.7" cy="606" rx="3.5" ry="4.5" fill="#fff"/>
<polyline points="81,579 90,580.5 100,585.5" stroke-width="3"/>
</g>
<g stroke="#000" stroke-width="1" fill="none" shape-rendering="crispEdges">
<rect x="45.5" y="68.5" width="680" height="734"/>
<line x1="70.5" y1="54" x2="70.5" y2="68"/>
<line x1="70.5" y1="803" x2="70.5" y2="816"/>
<line x1="145.5" y1="54" x2="145.5" y2="68"/>
<line x1="145.5" y1="803" x2="145.5" y2="816"/>
<line x1="219.5" y1="54" x2="219.5" y2="68"/>
<line x1="219.5" y1="803" x2="219.5" y2="816"/>
<line x1="294.5" y1="54" x2="294.5" y2="68"/>
<line x1="294.5" y1="803" x2="294.5" y2="816"/>
<line x1="369.5" y1="54" x2="369.5" y2="68"/>
<line x1="369.5" y1="803" x2="369.5" y2="816"/>
<line x1="444.5" y1="54" x2="444.5" y2="68"/>
<line x1="444.5" y1="803" x2="444.5" y2="816"/>
<line x1="519.5" y1="54" x2="519.5" y2="68"/>
<line x1="519.5" y1="803" x2="519.5" y2="816"/>
<line x1="593.5" y1="54" x2="593.5" y2="68"/>
<line x1="593.5" y1="803" x2="593.5" y2="816"/>
<line x1="668.5" y1="54" x2="668.5" y2="68"/>
<line x1="668.5" y1="803" x2="668.5" y2="816"/>
<line x1="107.5" y1="62" x2="107.5" y2="68"/>
<line x1="107.5" y1="803" x2="107.5" y2="809"/>
<line x1="182.5" y1="62" x2="182.5" y2="68"/>
<line x1="182.5" y1="803" x2="182.5" y2="809"/>
<line x1="257.5" y1="62" x2="257.5" y2="68"/>
<line x1="257.5" y1="803" x2="257.5" y2="809"/>
<line x1="332.5" y1="62" x2="332.5" y2="68"/>
<line x1="332.5" y1="803" x2="332.5" y2="809"/>
<line x1="406.5" y1="62" x2="406.5" y2="68"/>
<line x1="406.5" y1="803" x2="406.5" y2="809"/>
<line x1="481.5" y1="62" x2="481.5" y2="68"/>
<line x1="481.5" y1="803" x2="481.5" y2="809"/>
<line x1="556.5" y1="62" x2="556.5" y2="68"/>
<line x1="556.5" y1="803" x2="556.5" y2="809"/>
<line x1="631.5" y1="62" x2="631.5" y2="68"/>
<line x1="631.5" y1="803" x2="631.5" y2="809"/>
<line x1="706.5" y1="62" x2="706.5" y2="68"/>
<line x1="706.5" y1="803" x2="706.5" y2="809"/>
<line x1="30" y1="106.5" x2="45" y2="106.5"/>
<line x1="726" y1="106.5" x2="741" y2="106.5"/>
<line x1="30" y1="196.5" x2="45" y2="196.5"/>
<line x1="726" y1="196.5" x2="741" y2="196.5"/>
<line x1="30" y1="285.5" x2="45" y2="285.5"/>
<line x1="726" y1="285.5" x2="741" y2="285.5"/>
<line x1="30" y1="374.5" x2="45" y2="374.5"/>
<line x1="726" y1="374.5" x2="741" y2="374.5"/>
<line x1="30" y1="463.5" x2="45" y2="463.5"/>
<line x1="726" y1="463.5" x2="741" y2="463.5"/>
<line x1="30" y1="551.5" x2="45" y2="551.5"/>
<line x1="726" y1="551.5" x2="741" y2="551.5"/>
<line x1="30" y1="638.5" x2="45" y2="638.5"/>
<line x1="726" y1="638.5" x2="741" y2="638.5"/>
<line x1="30" y1="725.5" x2="45" y2="725.5"/>
<line x1="726" y1="725.5" x2="741" y2="725.5"/>
<line x1="39" y1="151.5" x2="45" y2="151.5"/>
<line x1="726" y1="151.5" x2="732" y2="151.5"/>
<line x1="39" y1="241.5" x2="45" y2="241.5"/>
<line x1="726" y1="241.5" x2="732" y2="241.5"/>
<line x1="39" y1="330.5" x2="45" y2="330.5"/>
<line x1="726" y1="330.5" x2="732" y2="330.5"/>
<line x1="39" y1="419.5" x2="45" y2="419.5"/>
<line x1="726" y1="419.5" x2="732" y2="419.5"/>
<line x1="39" y1="507.5" x2="45" y2="507.5"/>
<line x1="726" y1="507.5" x2="732" y2="507.5"/>
<line x1="39" y1="595.5" x2="45" y2="595.5"/>
<line x1="726" y1="595.5" x2="732" y2="595.5"/>
<line x1="39" y1="682.5" x2="45" y2="682.5"/>
<line x1="726" y1="682.5" x2="732" y2="682.5"/>
<line x1="39" y1="769.5" x2="45" y2="769.5"/>
<line x1="726" y1="769.5" x2="732" y2="769.5"/>
</g>
<g shape-rendering="crispEdges">
<rect x="855" y="790.55" width="44" height="12.05" fill="rgb(0,0,159)"/>
<rect x="855" y="779.09" width="44" height="12.05" fill="rgb(0,0,175)"/>
<rect x="855" y="767.64" width="44" height="12.05" fill="rgb(0,0,191)"/>
<rect x="855" y="756.19" width="44" height="12.05" fill="rgb(0,0,207)"/>
<rect x="855" y="744.73" width="44" height="12.05" fill="rgb(0,0,223)"/>
<rect x="855" y="733.28" width="44" height="12.05" fill="rgb(0,0,239)"/>
<rect x="855" y="721.83" width="44" height="12.05" fill="rgb(0,0,255)"/>
<rect x="855" y="710.38" width="44" height="12.05" fill="rgb(0,16,255)"/>
<rect x="855" y="698.92" width="44" height="12.05" fill="rgb(0,32,255)"/>
<rect x="855" y="687.47" width="44" height="12.05" fill="rgb(0,48,255)"/>
<rect x="855" y="676.02" width="44" height="12.05" fill="rgb(0,64,255)"/>
<rect x="855" y="664.56" width="44" height="12.05" fill="rgb(0,80,255)"/>
<rect x="855" y="653.11" width="44" height="12.05" fill="rgb(0,96,255)"/>
<rect x="855" y="641.66" width="44" height="12.05" fill="rgb(0,112,255)"/>
<rect x="855" y="630.20" width="44" height="12.05" fill="rgb(0,128,255)"/>
<rect x="855" y="618.75" width="44" height="12.05" fill="rgb(0,143,255)"/>
<rect x="855" y="607.30" width="44" height="12.05" fill="rgb(0,159,255)"/>
<rect x="855" y="595.84" width="44" height="12.05" fill="rgb(0,175,255)"/>
<rect x="855" y="584.39" width="44" height="12.05" fill="rgb(0,191,255)"/>
<rect x="855" y="572.94" width="44" height="12.05" fill="rgb(0,207,255)"/>
<rect x="855" y="561.48" width="44" height="12.05" fill="rgb(0,223,255)"/>
<rect x="855" y="550.03" width="44" height="12.05" fill="rgb(0,239,255)"/>
<rect x="855" y="538.58" width="44" height="12.05" fill="rgb(0,255,255)"/>
<rect x="855" y="527.12" width="44" height="12.05" fill="rgb(16,255,239)"/>
<rect x="855" y="515.67" width="44" height="12.05" fill="rgb(32,255,223)"/>
<rect x="855" y="504.22" width="44" height="12.05" fill="rgb(48,255,207)"/>
<rect x="855" y="492.77" width="44" height="12.05" fill="rgb(64,255,191)"/>
<rect x="855" y="481.31" width="44" height="12.05" fill="rgb(80,255,175)"/>
<rect x="855" y="469.86" width="44" height="12.05" fill="rgb(96,255,159)"/>
<rect x="855" y="458.41" width="44" height="12.05" fill="rgb(112,255,143)"/>
<rect x="855" y="446.95" width="44" height="12.05" fill="rgb(128,255,128)"/>
<rect x="855" y="435.50" width="44" height="12.05" fill="rgb(143,255,112)"/>
<rect x="855" y="424.05" width="44" height="12.05" fill="rgb(159,255,96)"/>
<rect x="855" y="412.59" width="44" height="12.05" fill="rgb(175,255,80)"/>
<rect x="855" y="401.14" width="44" height="12.05" fill="rgb(191,255,64)"/>
<rect x="855" y="389.69" width="44" height="12.05" fill="rgb(207,255,48)"/>
<rect x="855" y="378.23" width="44" height="12.05" fill="rgb(223,255,32)"/>
<rect x="855" y="366.78" width="44" height="12.05" fill="rgb(239,255,16)"/>
<rect x="855" y="355.33" width="44" height="12.05" fill="rgb(255,255,0)"/>
<rect x="855" y="343.88" width="44" height="12.05" fill="rgb(255,239,0)"/>
<rect x="855" y="332.42" width="44" height="12.05" fill="rgb(255,223,0)"/>
<rect x="855" y="320.97" width="44" height="12.05" fill="rgb(255,207,0)"/>
<rect x="855" y="309.52" width="44" height="12.05" fill="rgb(255,191,0)"/>
<rect x="855" y="298.06" width="44" height="12.05" fill="rgb(255,175,0)"/>
<rect x="855" y="286.61" width="44" height="12.05" fill="rgb(255,159,0)"/>
<rect x="855" y="275.16" width="44" height="12.05" fill="rgb(255,143,0)"/>
<rect x="855" y="263.70" width="44" height="12.05" fill="rgb(255,128,0)"/>
<rect x="855" y="252.25" width="44" height="12.05" fill="rgb(255,112,0)"/>
<rect x="855" y="240.80" width="44" height="12.05" fill="rgb(255,96,0)"/>
<rect x="855" y="229.34" width="44" height="12.05" fill="rgb(255,80,0)"/>
<rect x="855" y="217.89" width="44" height="12.05" fill="rgb(255,64,0)"/>
<rect x="855" y="206.44" width="44" height="12.05" fill="rgb(255,48,0)"/>
<rect x="855" y="194.98" width="44" height="12.05" fill="rgb(255,32,0)"/>
<rect x="855" y="183.53" width="44" height="12.05" fill="rgb(255,16,0)"/>
<rect x="855" y="172.08" width="44" height="12.05" fill="rgb(255,0,0)"/>
<rect x="855" y="160.62" width="44" height="12.05" fill="rgb(239,0,0)"/>
<rect x="855" y="149.17" width="44" height="12.05" fill="rgb(223,0,0)"/>
<rect x="855" y="137.72" width="44" height="12.05" fill="rgb(207,0,0)"/>
<rect x="855" y="126.27" width="44" height="12.05" fill="rgb(191,0,0)"/>
<rect x="855" y="114.81" width="44" height="12.05" fill="rgb(175,0,0)"/>
<rect x="855" y="103.36" width="44" height="12.05" fill="rgb(159,0,0)"/>
<rect x="855" y="91.91" width="44" height="12.05" fill="rgb(143,0,0)"/>
<rect x="855" y="80.45" width="44" height="12.05" fill="rgb(128,0,0)"/>
<rect x="855" y="69.00" width="44" height="12.05" fill="rgb(112,0,0)"/>
<rect x="854.5" y="68.5" width="45" height="734" fill="none" stroke="#000"/>
<line x1="894" y1="160.5" x2="898" y2="160.5" stroke="#000"/>
<line x1="894" y1="252.5" x2="898" y2="252.5" stroke="#000"/>
<line x1="894" y1="344.5" x2="898" y2="344.5" stroke="#000"/>
<line x1="894" y1="436.5" x2="898" y2="436.5" stroke="#000"/>
<line x1="894" y1="527.5" x2="898" y2="527.5" stroke="#000"/>
<line x1="894" y1="619.5" x2="898" y2="619.5" stroke="#000"/>
<line x1="894" y1="711.5" x2="898" y2="711.5" stroke="#000"/>
<line x1="855" y1="88.5" x2="857" y2="88.5" stroke="#000"/>
<line x1="855" y1="190.5" x2="857" y2="190.5" stroke="#000"/>
<line x1="855" y1="293.5" x2="857" y2="293.5" stroke="#000"/>
<line x1="855" y1="395.5" x2="857" y2="395.5" stroke="#000"/>
<line x1="855" y1="497.5" x2="857" y2="497.5" stroke="#000"/>
<line x1="855" y1="599.5" x2="857" y2="599.5" stroke="#000"/>
<line x1="855" y1="701.5" x2="857" y2="701.5" stroke="#000"/>
</g>
<g font-family="Liberation Sans, sans-serif" font-size="15.6px" fill="#000">
<text x="-1" y="112" text-anchor="start" textLength="30.5" lengthAdjust="spacingAndGlyphs">34 0'</text>
<text x="-1" y="291" text-anchor="start" textLength="30.5" lengthAdjust="spacingAndGlyphs">33 0'</text>
<text x="-1" y="469" text-anchor="start" textLength="30.5" lengthAdjust="spacingAndGlyphs">32 0'</text>
<text x="-1" y="644" text-anchor="start" textLength="30.5" lengthAdjust="spacingAndGlyphs">31 0'</text>
<text x="127" y="829.6" text-anchor="start" textLength="34.5" lengthAdjust="spacingAndGlyphs">-81 0'</text>
<text x="276" y="829.6" text-anchor="start" textLength="34.5" lengthAdjust="spacingAndGlyphs">-80 0'</text>
<text x="426" y="829.6" text-anchor="start" textLength="34.5" lengthAdjust="spacingAndGlyphs">-79 0'</text>
<text x="575" y="829.6" text-anchor="start" textLength="34.5" lengthAdjust="spacingAndGlyphs">-78 0'</text>
<text x="902.5" y="74" text-anchor="start" textLength="24.5" lengthAdjust="spacingAndGlyphs">31C</text>
<text x="902.5" y="166" text-anchor="start" textLength="24.5" lengthAdjust="spacingAndGlyphs">30C</text>
<text x="902.5" y="258" text-anchor="start" textLength="24.5" lengthAdjust="spacingAndGlyphs">29C</text>
<text x="902.5" y="350" text-anchor="start" textLength="24.5" lengthAdjust="spacingAndGlyphs">28C</text>
<text x="902.5" y="442" text-anchor="start" textLength="24.5" lengthAdjust="spacingAndGlyphs">27C</text>
<text x="902.5" y="533" text-anchor="start" textLength="24.5" lengthAdjust="spacingAndGlyphs">26C</text>
<text x="902.5" y="625" text-anchor="start" textLength="24.5" lengthAdjust="spacingAndGlyphs">25C</text>
<text x="902.5" y="717" text-anchor="start" textLength="24.5" lengthAdjust="spacingAndGlyphs">24C</text>
<text x="906.8" y="808" text-anchor="start" textLength="24.5" lengthAdjust="spacingAndGlyphs">23C</text>
<text x="826.5" y="94" text-anchor="start" textLength="23.5" lengthAdjust="spacingAndGlyphs">87F</text>
<text x="826.5" y="196" text-anchor="start" textLength="23.5" lengthAdjust="spacingAndGlyphs">85F</text>
<text x="826.5" y="299" text-anchor="start" textLength="23.5" lengthAdjust="spacingAndGlyphs">83F</text>
<text x="826.5" y="401" text-anchor="start" textLength="23.5" lengthAdjust="spacingAndGlyphs">81F</text>
<text x="826.5" y="503" text-anchor="start" textLength="23.5" lengthAdjust="spacingAndGlyphs">79F</text>
<text x="826.5" y="605" text-anchor="start" textLength="23.5" lengthAdjust="spacingAndGlyphs">77F</text>
<text x="826.5" y="706" text-anchor="start" textLength="23.5" lengthAdjust="spacingAndGlyphs">75F</text>
<text x="822.7" y="807" text-anchor="start" textLength="23.5" lengthAdjust="spacingAndGlyphs">73F</text>
</g>
<g font-family="Liberation Sans, sans-serif" font-size="18.4px" font-weight="bold" fill="#000" stroke="#000" stroke-width="0.45" text-anchor="middle">
<text x="308.8" y="383" transform="rotate(-36 308.8 383)" dy="6.6">50 ft</text>
<text x="608.8" y="175.4" transform="rotate(12 608.8 175.4)" dy="6.6">50 ft</text>
<text x="391.4" y="408" transform="rotate(-39 391.4 408)" dy="6.6">120 ft</text>
<text x="568.2" y="288.6" transform="rotate(-26 568.2 288.6)" dy="6.6">120 ft</text>
<text x="383.6" y="511.4" transform="rotate(-42 383.6 511.4)" dy="6.6">600 ft</text>
<text x="634.3" y="291.6" transform="rotate(-22 634.3 291.6)" dy="6.6">600 ft</text>
</g>
<g font-family="Liberation Sans, sans-serif" font-size="19.5px" font-weight="bold" fill="#0000a0">
<text y="20"><tspan x="104.0" textLength="83.03" lengthAdjust="spacingAndGlyphs">NOAA-15</tspan><tspan x="193.0" textLength="34.56" lengthAdjust="spacingAndGlyphs">Sea</tspan><tspan x="233.0" textLength="70.04" lengthAdjust="spacingAndGlyphs">Surface</tspan><tspan x="309" textLength="120.02" lengthAdjust="spacingAndGlyphs">Temperature:</tspan><tspan x="439.5" textLength="99.51" lengthAdjust="spacingAndGlyphs">September</tspan><tspan x="545.0" textLength="26.1" lengthAdjust="spacingAndGlyphs">20,</tspan><tspan x="574" textLength="41.07" lengthAdjust="spacingAndGlyphs">2019</tspan><tspan x="619.0" textLength="40.08" lengthAdjust="spacingAndGlyphs">2236</tspan><tspan x="665" textLength="41.52" lengthAdjust="spacingAndGlyphs">GMT</tspan></text>
<text y="44"><tspan x="221.5" textLength="72.07" lengthAdjust="spacingAndGlyphs">Rutgers</tspan><tspan x="299.5" textLength="70.58" lengthAdjust="spacingAndGlyphs">Coastal</tspan><tspan x="375" textLength="59.07" lengthAdjust="spacingAndGlyphs">Ocean</tspan><tspan x="439.5" textLength="109.53" lengthAdjust="spacingAndGlyphs">Observation</tspan><tspan x="553.0" textLength="34.08" lengthAdjust="spacingAndGlyphs">Lab</tspan></text>
</g>
</svg>
</body></html>
